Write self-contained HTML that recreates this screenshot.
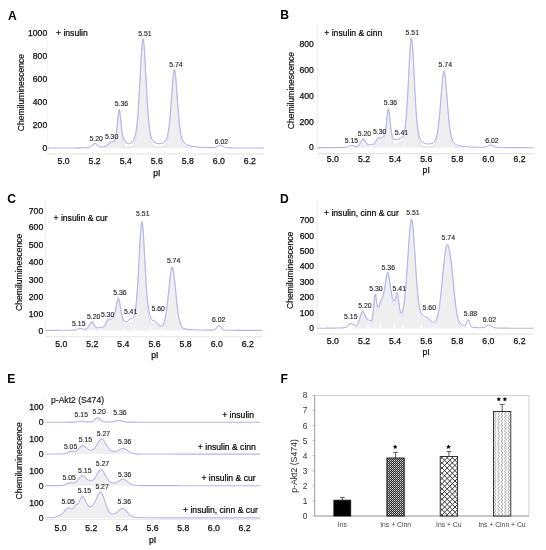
<!DOCTYPE html>
<html><head><meta charset="utf-8"><title>Figure</title>
<style>
html,body{margin:0;padding:0;background:#fff;}
body{width:546px;height:550px;overflow:hidden;font-family:"Liberation Sans",sans-serif;}
svg{display:block;will-change:transform;transform:translateZ(0);}
</style></head><body>
<svg width="546" height="550" viewBox="0 0 546 550" font-family="Liberation Sans, sans-serif">
<rect width="546" height="550" fill="#fff"/>
<text x="7.9" y="19.6" font-size="12.1" text-anchor="start" font-weight="bold" fill="#000" >A</text>
<text x="47.2" y="36.1" font-size="8.6" text-anchor="end" font-weight="normal" fill="#0c0c0c" stroke="#0c0c0c" stroke-width="0.25">1000</text>
<text x="47.2" y="59.1" font-size="8.6" text-anchor="end" font-weight="normal" fill="#0c0c0c" stroke="#0c0c0c" stroke-width="0.25">800</text>
<text x="47.2" y="82.1" font-size="8.6" text-anchor="end" font-weight="normal" fill="#0c0c0c" stroke="#0c0c0c" stroke-width="0.25">600</text>
<text x="47.2" y="105.1" font-size="8.6" text-anchor="end" font-weight="normal" fill="#0c0c0c" stroke="#0c0c0c" stroke-width="0.25">400</text>
<text x="47.2" y="128.1" font-size="8.6" text-anchor="end" font-weight="normal" fill="#0c0c0c" stroke="#0c0c0c" stroke-width="0.25">200</text>
<text x="47.2" y="151.1" font-size="8.6" text-anchor="end" font-weight="normal" fill="#0c0c0c" stroke="#0c0c0c" stroke-width="0.25">0</text>
<text x="63.6" y="164" font-size="8.7" text-anchor="middle" font-weight="normal" fill="#0c0c0c" stroke="#0c0c0c" stroke-width="0.25">5.0</text>
<text x="94.65" y="164" font-size="8.7" text-anchor="middle" font-weight="normal" fill="#0c0c0c" stroke="#0c0c0c" stroke-width="0.25">5.2</text>
<text x="125.7" y="164" font-size="8.7" text-anchor="middle" font-weight="normal" fill="#0c0c0c" stroke="#0c0c0c" stroke-width="0.25">5.4</text>
<text x="156.75" y="164" font-size="8.7" text-anchor="middle" font-weight="normal" fill="#0c0c0c" stroke="#0c0c0c" stroke-width="0.25">5.6</text>
<text x="187.8" y="164" font-size="8.7" text-anchor="middle" font-weight="normal" fill="#0c0c0c" stroke="#0c0c0c" stroke-width="0.25">5.8</text>
<text x="218.85" y="164" font-size="8.7" text-anchor="middle" font-weight="normal" fill="#0c0c0c" stroke="#0c0c0c" stroke-width="0.25">6.0</text>
<text x="249.9" y="164" font-size="8.7" text-anchor="middle" font-weight="normal" fill="#0c0c0c" stroke="#0c0c0c" stroke-width="0.25">6.2</text>
<text x="156.8" y="175.8" font-size="8.6" text-anchor="middle" font-weight="normal" fill="#0c0c0c" stroke="#0c0c0c" stroke-width="0.25">pI</text>
<text x="21.3" y="92.6" font-size="8.6" text-anchor="middle" font-weight="normal" fill="#0c0c0c" transform="rotate(-90 21.3 92.6)" dominant-baseline="central" stroke="#161616" stroke-width="0.2">Chemiluminescence</text>
<text x="56" y="36.3" font-size="8.6" text-anchor="start" font-weight="normal" fill="#000" stroke="#000" stroke-width="0.2">+ insulin</text>
<line x1="47.8" y1="24" x2="47.8" y2="154" stroke="#f0f0f0" stroke-width="1"/>
<line x1="47.8" y1="154" x2="263.9" y2="154" stroke="#e4e4e4" stroke-width="1.1"/>
<path d="M104.00,147.67 L104.50,147.54 L105.00,147.36 L105.50,147.14 L106.00,146.86 L106.50,146.53 L107.00,146.15 L107.50,145.73 L108.00,145.28 L108.50,144.83 L109.00,144.40 L109.50,144.03 L110.00,143.72 L110.50,143.51 L111.00,143.40 L111.50,143.40 L112.00,143.49 L112.50,143.65 L113.00,143.81 L113.50,143.90 L114.00,143.79 L114.50,143.31 L115.00,142.24 L115.50,140.34 L116.00,137.44 L116.50,133.46 L117.00,128.55 L117.50,123.12 L118.00,117.87 L118.50,113.68 L119.00,111.44 L119.50,111.73 L120.00,114.49 L120.50,119.05 L121.00,124.52 L121.50,130.04 L122.00,134.99 L122.50,139.00 L123.00,141.98 L123.50,144.03 L124.00,145.34 L124.50,146.13 L125.00,146.57 L125.50,146.81 L126.00,146.94 L126.50,147.00 L127.00,147.03 L127.50,147.04 L128.00,147.03 L128.50,147.01 L129.00,146.98 L129.50,146.93 L130.00,146.88 L130.50,146.80 L131.00,146.69 L131.50,146.55 L132.00,146.36 L132.50,146.08 L133.00,145.68 L133.50,145.12 L134.00,144.31 L134.50,143.18 L135.00,141.60 L135.50,139.46 L136.00,136.62 L136.50,132.92 L137.00,128.25 L137.50,122.50 L138.00,115.62 L138.50,107.67 L139.00,98.75 L139.50,89.12 L140.00,79.12 L140.50,69.19 L141.00,59.88 L141.50,51.77 L142.00,45.43 L142.50,41.39 L143.00,40.00 L143.50,41.38 L144.00,45.42 L144.50,51.75 L145.00,59.86 L145.50,69.16 L146.00,79.08 L146.50,89.08 L147.00,98.71 L147.50,107.62 L148.00,115.57 L148.50,122.43 L149.00,128.18 L149.50,132.85 L150.00,136.54 L150.50,139.38 L151.00,141.51 L151.50,143.08 L152.00,144.20 L152.50,145.00 L153.00,145.56 L153.50,145.95 L154.00,146.22 L154.50,146.41 L155.00,146.55 L155.50,146.65 L156.00,146.72 L156.50,146.78 L157.00,146.82 L157.50,146.85 L158.00,146.87 L158.50,146.88 L159.00,146.89 L159.50,146.89 L160.00,146.88 L160.50,146.86 L161.00,146.84 L161.50,146.80 L162.00,146.75 L162.50,146.68 L163.00,146.59 L163.50,146.46 L164.00,146.28 L164.50,146.02 L165.00,145.64 L165.50,145.10 L166.00,144.34 L166.50,143.27 L167.00,141.81 L167.50,139.84 L168.00,137.26 L168.50,133.96 L169.00,129.88 L169.50,124.96 L170.00,119.22 L170.50,112.76 L171.00,105.75 L171.50,98.44 L172.00,91.19 L172.50,84.41 L173.00,78.55 L173.50,74.07 L174.00,71.39 L174.50,70.75 L175.00,72.24 L175.50,75.70 L176.00,80.79 L176.50,87.09 L177.00,94.12 L177.50,101.45 L178.00,108.69 L178.50,115.52 L179.00,121.72 L179.50,127.15 L180.00,131.75 L180.50,135.53 L181.00,138.54 L181.50,140.88 L182.00,142.65 L182.50,143.96 L183.00,144.91 L183.50,145.59 L184.00,146.08 L184.50,146.42 L185.00,146.67 L185.50,146.85 L186.00,146.99 L186.50,147.10 L187.00,147.19 L187.50,147.26 L188.00,147.32 L188.50,147.38 L189.00,147.43 L189.50,147.47 L190.00,147.51 L190.50,147.55 L191.00,147.58 L191.50,147.61 L192.00,147.64 L192.00,148.20 L104.00,148.20 Z" fill="#efefef" stroke="none"/>
<path d="M104.00,147.67 L104.50,147.54 L105.00,147.36 L105.50,147.14 L106.00,146.86 L106.50,146.53 L107.00,146.15 L107.50,145.73 L108.00,145.28 L108.50,144.83 L109.00,144.40 L109.50,144.03 L110.00,143.72 L110.50,143.51 L111.00,143.40 L111.50,143.40 L112.00,143.49 L112.50,143.65 L113.00,143.81 L113.50,143.90 L114.00,143.79 L114.50,143.31 L115.00,142.24 L115.50,140.34 L116.00,137.44 L116.50,133.46 L117.00,128.55 L117.50,123.12 L118.00,117.87 L118.50,113.68 L119.00,111.44 L119.50,111.73 L120.00,114.49 L120.50,119.05 L121.00,124.52 L121.50,130.04 L122.00,134.99 L122.50,139.00 L123.00,141.98 L123.50,144.03 L124.00,145.34 L124.50,146.13 L125.00,146.57 L125.50,146.81 L126.00,146.94 L126.50,147.00 L127.00,147.03 L127.50,147.04 L128.00,147.03 L128.50,147.01 L129.00,146.98 L129.50,146.93 L130.00,146.88 L130.50,146.80 L131.00,146.69 L131.50,146.55 L132.00,146.36 L132.50,146.08 L133.00,145.68 L133.50,145.12 L134.00,144.31 L134.50,143.18 L135.00,141.60 L135.50,139.46 L136.00,136.62 L136.50,132.92 L137.00,128.25 L137.50,122.50 L138.00,115.62 L138.50,107.67 L139.00,98.75 L139.50,89.12 L140.00,79.12 L140.50,69.19 L141.00,59.88 L141.50,51.77 L142.00,45.43 L142.50,41.39 L143.00,40.00 L143.50,41.38 L144.00,45.42 L144.50,51.75 L145.00,59.86 L145.50,69.16 L146.00,79.08 L146.50,89.08 L147.00,98.71 L147.50,107.62 L148.00,115.57 L148.50,122.43 L149.00,128.18 L149.50,132.85 L150.00,136.54 L150.50,139.38 L151.00,141.51 L151.50,143.08 L152.00,144.20 L152.50,145.00 L153.00,145.56 L153.50,145.95 L154.00,146.22 L154.50,146.41 L155.00,146.55 L155.50,146.65 L156.00,146.72 L156.50,146.78 L157.00,146.82 L157.50,146.85 L158.00,146.87 L158.50,146.88 L159.00,146.89 L159.50,146.89 L160.00,146.88 L160.50,146.86 L161.00,146.84 L161.50,146.80 L162.00,146.75 L162.50,146.68 L163.00,146.59 L163.50,146.46 L164.00,146.28 L164.50,146.02 L165.00,145.64 L165.50,145.10 L166.00,144.34 L166.50,143.27 L167.00,141.81 L167.50,139.84 L168.00,137.26 L168.50,133.96 L169.00,129.88 L169.50,124.96 L170.00,119.22 L170.50,112.76 L171.00,105.75 L171.50,98.44 L172.00,91.19 L172.50,84.41 L173.00,78.55 L173.50,74.07 L174.00,71.39 L174.50,70.75 L175.00,72.24 L175.50,75.70 L176.00,80.79 L176.50,87.09 L177.00,94.12 L177.50,101.45 L178.00,108.69 L178.50,115.52 L179.00,121.72 L179.50,127.15 L180.00,131.75 L180.50,135.53 L181.00,138.54 L181.50,140.88 L182.00,142.65 L182.50,143.96 L183.00,144.91 L183.50,145.59 L184.00,146.08 L184.50,146.42 L185.00,146.67 L185.50,146.85 L186.00,146.99 L186.50,147.10 L187.00,147.19 L187.50,147.26 L188.00,147.32 L188.50,147.38 L189.00,147.43 L189.50,147.47 L190.00,147.51 L190.50,147.55 L191.00,147.58 L191.50,147.61 L192.00,147.64" fill="none" stroke="#d8d8f2" stroke-width="0.9"/>
<path d="M47.80,148.07 L48.30,148.07 L48.80,148.07 L49.30,148.07 L49.80,148.06 L50.30,148.06 L50.80,148.06 L51.30,148.06 L51.80,148.06 L52.30,148.06 L52.80,148.05 L53.30,148.05 L53.80,148.05 L54.30,148.05 L54.80,148.05 L55.30,148.04 L55.80,148.04 L56.30,148.04 L56.80,148.04 L57.30,148.04 L57.80,148.03 L58.30,148.03 L58.80,148.03 L59.30,148.03 L59.80,148.03 L60.30,148.02 L60.80,148.02 L61.30,148.02 L61.80,148.02 L62.30,148.01 L62.80,148.01 L63.30,148.01 L63.80,148.01 L64.30,148.00 L64.80,148.00 L65.30,148.00 L65.80,148.00 L66.30,147.99 L66.80,147.99 L67.30,147.99 L67.80,147.98 L68.30,147.98 L68.80,147.98 L69.30,147.97 L69.80,147.97 L70.30,147.96 L70.80,147.96 L71.30,147.96 L71.80,147.95 L72.30,147.95 L72.80,147.94 L73.30,147.94 L73.80,147.93 L74.30,147.93 L74.80,147.92 L75.30,147.92 L75.80,147.91 L76.30,147.91 L76.80,147.90 L77.30,147.90 L77.80,147.89 L78.30,147.88 L78.80,147.88 L79.30,147.87 L79.80,147.86 L80.30,147.85 L80.80,147.84 L81.30,147.83 L81.80,147.82 L82.30,147.81 L82.80,147.80 L83.30,147.79 L83.80,147.78 L84.30,147.76 L84.80,147.75 L85.30,147.73 L85.80,147.71 L86.30,147.69 L86.80,147.66 L87.30,147.62 L87.80,147.57 L88.30,147.50 L88.80,147.41 L89.30,147.28 L89.80,147.11 L90.30,146.89 L90.80,146.61 L91.30,146.27 L91.80,145.88 L92.30,145.44 L92.80,144.98 L93.30,144.53 L93.80,144.12 L94.30,143.81 L94.80,143.64 L95.30,143.64 L95.80,143.81 L96.30,144.11 L96.80,144.49 L97.30,144.92 L97.80,145.34 L98.30,145.73 L98.80,146.08 L99.30,146.37 L99.80,146.59 L100.30,146.76 L100.80,146.87 L101.30,146.93 L101.80,146.96 L102.30,146.95 L102.80,146.92 L103.30,146.86 L103.80,146.76 L104.30,146.63 L104.80,146.47 L105.30,146.26 L105.80,146.00 L106.30,145.69 L106.80,145.33 L107.30,144.93 L107.80,144.48 L108.30,144.00 L108.80,143.51 L109.30,143.04 L109.80,142.61 L110.30,142.25 L110.80,141.98 L111.30,141.82 L111.80,141.76 L112.30,141.76 L112.80,141.78 L113.30,141.73 L113.80,141.54 L114.30,141.07 L114.80,140.19 L115.30,138.70 L115.80,136.45 L116.30,133.28 L116.80,129.17 L117.30,124.25 L117.80,118.91 L118.30,113.92 L118.80,110.40 L119.30,109.48 L119.80,111.50 L120.30,115.70 L120.80,120.84 L121.30,125.92 L121.80,130.30 L122.30,133.72 L122.80,136.17 L123.30,137.79 L123.80,138.84 L124.30,139.59 L124.80,140.24 L125.30,140.91 L125.80,141.60 L126.30,142.28 L126.80,142.87 L127.30,143.32 L127.80,143.63 L128.30,143.78 L128.80,143.82 L129.30,143.76 L129.80,143.63 L130.30,143.45 L130.80,143.21 L131.30,142.92 L131.80,142.55 L132.30,142.10 L132.80,141.54 L133.30,140.83 L133.80,139.92 L134.30,138.75 L134.80,137.24 L135.30,135.30 L135.80,132.81 L136.30,129.66 L136.80,125.74 L137.30,120.94 L137.80,115.18 L138.30,108.44 L138.80,100.72 L139.30,92.13 L139.80,82.87 L140.30,73.24 L140.80,63.66 L141.30,54.72 L141.80,47.10 L142.30,41.56 L142.80,38.75 L143.30,39.06 L143.80,42.44 L144.30,48.43 L144.80,56.36 L145.30,65.47 L145.80,75.08 L146.30,84.65 L146.80,93.78 L147.30,102.18 L147.80,109.69 L148.30,116.22 L148.80,121.76 L149.30,126.36 L149.80,130.10 L150.30,133.08 L150.80,135.43 L151.30,137.27 L151.80,138.68 L152.30,139.77 L152.80,140.62 L153.30,141.28 L153.80,141.80 L154.30,142.21 L154.80,142.54 L155.30,142.81 L155.80,143.03 L156.30,143.21 L156.80,143.36 L157.30,143.48 L157.80,143.56 L158.30,143.63 L158.80,143.66 L159.30,143.68 L159.80,143.67 L160.30,143.63 L160.80,143.57 L161.30,143.48 L161.80,143.36 L162.30,143.20 L162.80,143.01 L163.30,142.76 L163.80,142.46 L164.30,142.07 L164.80,141.58 L165.30,140.96 L165.80,140.16 L166.30,139.13 L166.80,137.80 L167.30,136.10 L167.80,133.95 L168.30,131.26 L168.80,127.95 L169.30,123.95 L169.80,119.24 L170.30,113.80 L170.80,107.70 L171.30,101.06 L171.80,94.09 L172.30,87.12 L172.80,80.60 L173.30,75.10 L173.80,71.24 L174.30,69.56 L174.80,70.32 L175.30,73.40 L175.80,78.36 L176.30,84.58 L176.80,91.48 L177.30,98.54 L177.80,105.39 L178.30,111.77 L178.80,117.53 L179.30,122.58 L179.80,126.91 L180.30,130.54 L180.80,133.52 L181.30,135.93 L181.80,137.85 L182.30,139.38 L182.80,140.58 L183.30,141.53 L183.80,142.28 L184.30,142.89 L184.80,143.39 L185.30,143.80 L185.80,144.15 L186.30,144.45 L186.80,144.72 L187.30,144.95 L187.80,145.16 L188.30,145.34 L188.80,145.51 L189.30,145.67 L189.80,145.81 L190.30,145.93 L190.80,146.05 L191.30,146.16 L191.80,146.26 L192.30,146.35 L192.80,146.44 L193.30,146.52 L193.80,146.59 L194.30,146.66 L194.80,146.72 L195.30,146.78 L195.80,146.84 L196.30,146.89 L196.80,146.94 L197.30,146.99 L197.80,147.03 L198.30,147.07 L198.80,147.11 L199.30,147.15 L199.80,147.18 L200.30,147.22 L200.80,147.25 L201.30,147.28 L201.80,147.30 L202.30,147.33 L202.80,147.36 L203.30,147.38 L203.80,147.40 L204.30,147.42 L204.80,147.44 L205.30,147.46 L205.80,147.48 L206.30,147.50 L206.80,147.51 L207.30,147.53 L207.80,147.54 L208.30,147.56 L208.80,147.57 L209.30,147.58 L209.80,147.59 L210.30,147.60 L210.80,147.61 L211.30,147.62 L211.80,147.62 L212.30,147.62 L212.80,147.61 L213.30,147.60 L213.80,147.57 L214.30,147.52 L214.80,147.45 L215.30,147.35 L215.80,147.22 L216.30,147.04 L216.80,146.82 L217.30,146.56 L217.80,146.27 L218.30,145.97 L218.80,145.68 L219.30,145.42 L219.80,145.24 L220.30,145.15 L220.80,145.16 L221.30,145.29 L221.80,145.50 L222.30,145.78 L222.80,146.09 L223.30,146.40 L223.80,146.70 L224.30,146.97 L224.80,147.19 L225.30,147.38 L225.80,147.52 L226.30,147.63 L226.80,147.71 L227.30,147.77 L227.80,147.81 L228.30,147.83 L228.80,147.86 L229.30,147.87 L229.80,147.88 L230.30,147.89 L230.80,147.90 L231.30,147.91 L231.80,147.92 L232.30,147.92 L232.80,147.93 L233.30,147.94 L233.80,147.94 L234.30,147.95 L234.80,147.95 L235.30,147.96 L235.80,147.96 L236.30,147.96 L236.80,147.97 L237.30,147.97 L237.80,147.98 L238.30,147.98 L238.80,147.98 L239.30,147.99 L239.80,147.99 L240.30,147.99 L240.80,148.00 L241.30,148.00 L241.80,148.00 L242.30,148.00 L242.80,148.01 L243.30,148.01 L243.80,148.01 L244.30,148.02 L244.80,148.02 L245.30,148.02 L245.80,148.02 L246.30,148.03 L246.80,148.03 L247.30,148.03 L247.80,148.03 L248.30,148.03 L248.80,148.04 L249.30,148.04 L249.80,148.04 L250.30,148.04 L250.80,148.04 L251.30,148.05 L251.80,148.05 L252.30,148.05 L252.80,148.05 L253.30,148.05 L253.80,148.05 L254.30,148.06 L254.80,148.06 L255.30,148.06 L255.80,148.06 L256.30,148.06 L256.80,148.06 L257.30,148.07 L257.80,148.07 L258.30,148.07 L258.80,148.07 L259.30,148.07 L259.80,148.07 L260.30,148.07 L260.80,148.08 L261.30,148.08 L261.80,148.08 L262.30,148.08 L262.80,148.08 L263.30,148.08 L263.80,148.08" fill="none" stroke="#b6b6ea" stroke-width="1.1" stroke-linejoin="round"/>
<text x="96.2" y="141" font-size="6.9" text-anchor="middle" font-weight="normal" fill="#222" stroke="#222" stroke-width="0.12">5.20</text>
<text x="111.6" y="139.2" font-size="6.9" text-anchor="middle" font-weight="normal" fill="#222" stroke="#222" stroke-width="0.12">5.30</text>
<text x="121.4" y="106.3" font-size="6.9" text-anchor="middle" font-weight="normal" fill="#222" stroke="#222" stroke-width="0.12">5.36</text>
<text x="145" y="35.7" font-size="6.9" text-anchor="middle" font-weight="normal" fill="#222" stroke="#222" stroke-width="0.12">5.51</text>
<text x="176" y="67" font-size="6.9" text-anchor="middle" font-weight="normal" fill="#222" stroke="#222" stroke-width="0.12">5.74</text>
<text x="221.5" y="144" font-size="6.9" text-anchor="middle" font-weight="normal" fill="#222" stroke="#222" stroke-width="0.12">6.02</text>
<text x="280.2" y="19.2" font-size="12.1" text-anchor="start" font-weight="bold" fill="#000" >B</text>
<text x="313.8" y="47.4" font-size="8.6" text-anchor="end" font-weight="normal" fill="#0c0c0c" stroke="#0c0c0c" stroke-width="0.25">800</text>
<text x="313.8" y="73.1" font-size="8.6" text-anchor="end" font-weight="normal" fill="#0c0c0c" stroke="#0c0c0c" stroke-width="0.25">600</text>
<text x="313.8" y="98.89999999999999" font-size="8.6" text-anchor="end" font-weight="normal" fill="#0c0c0c" stroke="#0c0c0c" stroke-width="0.25">400</text>
<text x="313.8" y="124.6" font-size="8.6" text-anchor="end" font-weight="normal" fill="#0c0c0c" stroke="#0c0c0c" stroke-width="0.25">200</text>
<text x="313.8" y="150.4" font-size="8.6" text-anchor="end" font-weight="normal" fill="#0c0c0c" stroke="#0c0c0c" stroke-width="0.25">0</text>
<text x="332.9" y="162" font-size="8.7" text-anchor="middle" font-weight="normal" fill="#0c0c0c" stroke="#0c0c0c" stroke-width="0.25">5.0</text>
<text x="364.0" y="162" font-size="8.7" text-anchor="middle" font-weight="normal" fill="#0c0c0c" stroke="#0c0c0c" stroke-width="0.25">5.2</text>
<text x="395.09999999999997" y="162" font-size="8.7" text-anchor="middle" font-weight="normal" fill="#0c0c0c" stroke="#0c0c0c" stroke-width="0.25">5.4</text>
<text x="426.2" y="162" font-size="8.7" text-anchor="middle" font-weight="normal" fill="#0c0c0c" stroke="#0c0c0c" stroke-width="0.25">5.6</text>
<text x="457.29999999999995" y="162" font-size="8.7" text-anchor="middle" font-weight="normal" fill="#0c0c0c" stroke="#0c0c0c" stroke-width="0.25">5.8</text>
<text x="488.4" y="162" font-size="8.7" text-anchor="middle" font-weight="normal" fill="#0c0c0c" stroke="#0c0c0c" stroke-width="0.25">6.0</text>
<text x="519.5" y="162" font-size="8.7" text-anchor="middle" font-weight="normal" fill="#0c0c0c" stroke="#0c0c0c" stroke-width="0.25">6.2</text>
<text x="426.2" y="173" font-size="8.6" text-anchor="middle" font-weight="normal" fill="#0c0c0c" stroke="#0c0c0c" stroke-width="0.25">pI</text>
<text x="290.9" y="90.6" font-size="8.6" text-anchor="middle" font-weight="normal" fill="#0c0c0c" transform="rotate(-90 290.9 90.6)" dominant-baseline="central" stroke="#161616" stroke-width="0.2">Chemiluminescence</text>
<text x="324.3" y="36.3" font-size="8.6" text-anchor="start" font-weight="normal" fill="#000" stroke="#000" stroke-width="0.2">+ insulin &amp; cinn</text>
<line x1="317.5" y1="24" x2="317.5" y2="153.6" stroke="#f0f0f0" stroke-width="1"/>
<line x1="317.5" y1="153.6" x2="533.7" y2="153.6" stroke="#e4e4e4" stroke-width="1.1"/>
<path d="M354.00,147.69 L354.50,147.68 L355.00,147.66 L355.50,147.61 L356.00,147.54 L356.50,147.43 L357.00,147.26 L357.50,147.01 L358.00,146.65 L358.50,146.17 L359.00,145.55 L359.50,144.79 L360.00,143.91 L360.50,142.94 L361.00,141.96 L361.50,141.03 L362.00,140.24 L362.50,139.67 L363.00,139.38 L363.50,139.41 L364.00,139.75 L364.50,140.36 L365.00,141.18 L365.50,142.12 L366.00,143.10 L366.50,144.04 L367.00,144.89 L367.50,145.62 L368.00,146.20 L368.50,146.64 L369.00,146.96 L369.50,147.16 L370.00,147.28 L370.50,147.32 L371.00,147.29 L371.50,147.19 L372.00,147.02 L372.50,146.76 L373.00,146.40 L373.50,145.93 L374.00,145.33 L374.50,144.62 L375.00,143.80 L375.50,142.92 L376.00,142.00 L376.50,141.11 L377.00,140.32 L377.50,139.68 L378.00,139.25 L378.50,139.05 L379.00,139.06 L379.50,139.26 L380.00,139.57 L380.50,139.91 L381.00,140.18 L381.50,140.35 L382.00,140.39 L382.50,140.32 L383.00,140.11 L383.50,139.70 L384.00,138.93 L384.50,137.55 L385.00,135.35 L385.50,132.17 L386.00,128.06 L386.50,123.32 L387.00,118.49 L387.50,114.31 L388.00,111.59 L388.50,110.93 L389.00,112.52 L389.50,116.02 L390.00,120.74 L390.50,125.93 L391.00,130.94 L391.50,135.31 L392.00,138.80 L392.50,141.37 L393.00,143.09 L393.50,144.14 L394.00,144.67 L394.50,144.86 L395.00,144.81 L395.50,144.61 L396.00,144.33 L396.50,144.00 L397.00,143.66 L397.50,143.32 L398.00,143.00 L398.50,142.73 L399.00,142.52 L399.50,142.36 L400.00,142.25 L400.50,142.19 L401.00,142.14 L401.50,142.05 L402.00,141.88 L402.50,141.52 L403.00,140.89 L403.50,139.84 L404.00,138.23 L404.50,135.90 L405.00,132.67 L405.50,128.39 L406.00,122.92 L406.50,116.21 L407.00,108.27 L407.50,99.23 L408.00,89.35 L408.50,79.00 L409.00,68.71 L409.50,59.06 L410.00,50.74 L410.50,44.38 L411.00,40.57 L411.50,39.66 L412.00,41.77 L412.50,46.67 L413.00,53.90 L413.50,62.86 L414.00,72.88 L414.50,83.31 L415.00,93.59 L415.50,103.27 L416.00,112.01 L416.50,119.63 L417.00,126.02 L417.50,131.23 L418.00,135.34 L418.50,138.49 L419.00,140.85 L419.50,142.56 L420.00,143.78 L420.50,144.64 L421.00,145.23 L421.50,145.64 L422.00,145.92 L422.50,146.12 L423.00,146.26 L423.50,146.37 L424.00,146.44 L424.50,146.51 L425.00,146.56 L425.50,146.59 L426.00,146.63 L426.50,146.65 L427.00,146.67 L427.50,146.68 L428.00,146.69 L428.50,146.69 L429.00,146.68 L429.50,146.67 L430.00,146.65 L430.50,146.62 L431.00,146.58 L431.50,146.52 L432.00,146.44 L432.50,146.32 L433.00,146.15 L433.50,145.91 L434.00,145.56 L434.50,145.07 L435.00,144.39 L435.50,143.44 L436.00,142.16 L436.50,140.45 L437.00,138.23 L437.50,135.41 L438.00,131.92 L438.50,127.71 L439.00,122.78 L439.50,117.17 L440.00,110.98 L440.50,104.39 L441.00,97.62 L441.50,90.99 L442.00,84.82 L442.50,79.49 L443.00,75.36 L443.50,72.73 L444.00,71.83 L444.50,72.74 L445.00,75.38 L445.50,79.52 L446.00,84.86 L446.50,91.04 L447.00,97.68 L447.50,104.46 L448.00,111.06 L448.50,117.26 L449.00,122.88 L449.50,127.83 L450.00,132.05 L450.50,135.55 L451.00,138.38 L451.50,140.61 L452.00,142.33 L452.50,143.63 L453.00,144.59 L453.50,145.30 L454.00,145.80 L454.50,146.16 L455.00,146.42 L455.50,146.61 L456.00,146.75 L456.50,146.85 L457.00,146.93 L457.50,147.00 L458.00,147.05 L458.50,147.10 L459.00,147.14 L459.50,147.18 L460.00,147.21 L460.50,147.24 L461.00,147.27 L461.50,147.30 L462.00,147.32 L462.00,147.80 L354.00,147.80 Z" fill="#efefef" stroke="none"/>
<path d="M354.00,147.69 L354.50,147.68 L355.00,147.66 L355.50,147.61 L356.00,147.54 L356.50,147.43 L357.00,147.26 L357.50,147.01 L358.00,146.65 L358.50,146.17 L359.00,145.55 L359.50,144.79 L360.00,143.91 L360.50,142.94 L361.00,141.96 L361.50,141.03 L362.00,140.24 L362.50,139.67 L363.00,139.38 L363.50,139.41 L364.00,139.75 L364.50,140.36 L365.00,141.18 L365.50,142.12 L366.00,143.10 L366.50,144.04 L367.00,144.89 L367.50,145.62 L368.00,146.20 L368.50,146.64 L369.00,146.96 L369.50,147.16 L370.00,147.28 L370.50,147.32 L371.00,147.29 L371.50,147.19 L372.00,147.02 L372.50,146.76 L373.00,146.40 L373.50,145.93 L374.00,145.33 L374.50,144.62 L375.00,143.80 L375.50,142.92 L376.00,142.00 L376.50,141.11 L377.00,140.32 L377.50,139.68 L378.00,139.25 L378.50,139.05 L379.00,139.06 L379.50,139.26 L380.00,139.57 L380.50,139.91 L381.00,140.18 L381.50,140.35 L382.00,140.39 L382.50,140.32 L383.00,140.11 L383.50,139.70 L384.00,138.93 L384.50,137.55 L385.00,135.35 L385.50,132.17 L386.00,128.06 L386.50,123.32 L387.00,118.49 L387.50,114.31 L388.00,111.59 L388.50,110.93 L389.00,112.52 L389.50,116.02 L390.00,120.74 L390.50,125.93 L391.00,130.94 L391.50,135.31 L392.00,138.80 L392.50,141.37 L393.00,143.09 L393.50,144.14 L394.00,144.67 L394.50,144.86 L395.00,144.81 L395.50,144.61 L396.00,144.33 L396.50,144.00 L397.00,143.66 L397.50,143.32 L398.00,143.00 L398.50,142.73 L399.00,142.52 L399.50,142.36 L400.00,142.25 L400.50,142.19 L401.00,142.14 L401.50,142.05 L402.00,141.88 L402.50,141.52 L403.00,140.89 L403.50,139.84 L404.00,138.23 L404.50,135.90 L405.00,132.67 L405.50,128.39 L406.00,122.92 L406.50,116.21 L407.00,108.27 L407.50,99.23 L408.00,89.35 L408.50,79.00 L409.00,68.71 L409.50,59.06 L410.00,50.74 L410.50,44.38 L411.00,40.57 L411.50,39.66 L412.00,41.77 L412.50,46.67 L413.00,53.90 L413.50,62.86 L414.00,72.88 L414.50,83.31 L415.00,93.59 L415.50,103.27 L416.00,112.01 L416.50,119.63 L417.00,126.02 L417.50,131.23 L418.00,135.34 L418.50,138.49 L419.00,140.85 L419.50,142.56 L420.00,143.78 L420.50,144.64 L421.00,145.23 L421.50,145.64 L422.00,145.92 L422.50,146.12 L423.00,146.26 L423.50,146.37 L424.00,146.44 L424.50,146.51 L425.00,146.56 L425.50,146.59 L426.00,146.63 L426.50,146.65 L427.00,146.67 L427.50,146.68 L428.00,146.69 L428.50,146.69 L429.00,146.68 L429.50,146.67 L430.00,146.65 L430.50,146.62 L431.00,146.58 L431.50,146.52 L432.00,146.44 L432.50,146.32 L433.00,146.15 L433.50,145.91 L434.00,145.56 L434.50,145.07 L435.00,144.39 L435.50,143.44 L436.00,142.16 L436.50,140.45 L437.00,138.23 L437.50,135.41 L438.00,131.92 L438.50,127.71 L439.00,122.78 L439.50,117.17 L440.00,110.98 L440.50,104.39 L441.00,97.62 L441.50,90.99 L442.00,84.82 L442.50,79.49 L443.00,75.36 L443.50,72.73 L444.00,71.83 L444.50,72.74 L445.00,75.38 L445.50,79.52 L446.00,84.86 L446.50,91.04 L447.00,97.68 L447.50,104.46 L448.00,111.06 L448.50,117.26 L449.00,122.88 L449.50,127.83 L450.00,132.05 L450.50,135.55 L451.00,138.38 L451.50,140.61 L452.00,142.33 L452.50,143.63 L453.00,144.59 L453.50,145.30 L454.00,145.80 L454.50,146.16 L455.00,146.42 L455.50,146.61 L456.00,146.75 L456.50,146.85 L457.00,146.93 L457.50,147.00 L458.00,147.05 L458.50,147.10 L459.00,147.14 L459.50,147.18 L460.00,147.21 L460.50,147.24 L461.00,147.27 L461.50,147.30 L462.00,147.32" fill="none" stroke="#d8d8f2" stroke-width="0.9"/>
<path d="M368.50,148.10 Q371.00,146.60 371.00,143.80 Q371.00,146.60 373.50,148.10 Z" fill="#fafafa" stroke="none"/>
<path d="M392.50,148.10 Q394.50,146.30 394.50,142.80 Q394.50,146.30 396.50,148.10 Z" fill="#fafafa" stroke="none"/>
<path d="M402.50,148.10 Q404.50,146.30 404.50,142.80 Q404.50,146.30 406.50,148.10 Z" fill="#fafafa" stroke="none"/>
<path d="M317.50,147.67 L318.00,147.66 L318.50,147.66 L319.00,147.66 L319.50,147.66 L320.00,147.66 L320.50,147.65 L321.00,147.65 L321.50,147.65 L322.00,147.65 L322.50,147.65 L323.00,147.65 L323.50,147.64 L324.00,147.64 L324.50,147.64 L325.00,147.64 L325.50,147.63 L326.00,147.63 L326.50,147.63 L327.00,147.63 L327.50,147.62 L328.00,147.62 L328.50,147.62 L329.00,147.62 L329.50,147.61 L330.00,147.61 L330.50,147.61 L331.00,147.60 L331.50,147.60 L332.00,147.60 L332.50,147.59 L333.00,147.59 L333.50,147.59 L334.00,147.58 L334.50,147.58 L335.00,147.58 L335.50,147.57 L336.00,147.57 L336.50,147.56 L337.00,147.56 L337.50,147.55 L338.00,147.55 L338.50,147.54 L339.00,147.54 L339.50,147.53 L340.00,147.52 L340.50,147.52 L341.00,147.51 L341.50,147.50 L342.00,147.49 L342.50,147.48 L343.00,147.47 L343.50,147.45 L344.00,147.43 L344.50,147.41 L345.00,147.37 L345.50,147.32 L346.00,147.26 L346.50,147.17 L347.00,147.06 L347.50,146.92 L348.00,146.75 L348.50,146.56 L349.00,146.34 L349.50,146.13 L350.00,145.92 L350.50,145.73 L351.00,145.60 L351.50,145.53 L352.00,145.53 L352.50,145.61 L353.00,145.73 L353.50,145.89 L354.00,146.06 L354.50,146.22 L355.00,146.36 L355.50,146.46 L356.00,146.50 L356.50,146.49 L357.00,146.39 L357.50,146.20 L358.00,145.91 L358.50,145.50 L359.00,144.95 L359.50,144.28 L360.00,143.49 L360.50,142.60 L361.00,141.66 L361.50,140.73 L362.00,139.91 L362.50,139.28 L363.00,138.95 L363.50,138.96 L364.00,139.30 L364.50,139.91 L365.00,140.69 L365.50,141.54 L366.00,142.36 L366.50,143.10 L367.00,143.71 L367.50,144.18 L368.00,144.51 L368.50,144.70 L369.00,144.80 L369.50,144.82 L370.00,144.81 L370.50,144.77 L371.00,144.73 L371.50,144.68 L372.00,144.61 L372.50,144.50 L373.00,144.32 L373.50,144.04 L374.00,143.65 L374.50,143.13 L375.00,142.49 L375.50,141.73 L376.00,140.91 L376.50,140.06 L377.00,139.26 L377.50,138.58 L378.00,138.08 L378.50,137.81 L379.00,137.75 L379.50,137.86 L380.00,138.03 L380.50,138.15 L381.00,138.15 L381.50,137.97 L382.00,137.65 L382.50,137.22 L383.00,136.76 L383.50,136.23 L384.00,135.51 L384.50,134.39 L385.00,132.60 L385.50,129.94 L386.00,126.34 L386.50,121.94 L387.00,117.18 L387.50,112.79 L388.00,109.75 L388.50,108.97 L389.00,110.74 L389.50,114.49 L390.00,119.27 L390.50,124.20 L391.00,128.68 L391.50,132.39 L392.00,135.21 L392.50,137.16 L393.00,138.39 L393.50,139.08 L394.00,139.42 L394.50,139.58 L395.00,139.67 L395.50,139.73 L396.00,139.78 L396.50,139.80 L397.00,139.77 L397.50,139.67 L398.00,139.51 L398.50,139.30 L399.00,139.06 L399.50,138.81 L400.00,138.58 L400.50,138.34 L401.00,138.09 L401.50,137.79 L402.00,137.39 L402.50,136.81 L403.00,135.98 L403.50,134.78 L404.00,133.11 L404.50,130.82 L405.00,127.78 L405.50,123.85 L406.00,118.93 L406.50,112.91 L407.00,105.79 L407.50,97.60 L408.00,88.48 L408.50,78.70 L409.00,68.66 L409.50,58.89 L410.00,50.12 L410.50,43.18 L411.00,38.91 L411.50,37.88 L412.00,40.26 L412.50,45.70 L413.00,53.49 L413.50,62.77 L414.00,72.76 L414.50,82.81 L415.00,92.42 L415.50,101.28 L416.00,109.17 L416.50,115.99 L417.00,121.75 L417.50,126.48 L418.00,130.28 L418.50,133.29 L419.00,135.64 L419.50,137.44 L420.00,138.83 L420.50,139.89 L421.00,140.71 L421.50,141.34 L422.00,141.85 L422.50,142.26 L423.00,142.59 L423.50,142.87 L424.00,143.10 L424.50,143.29 L425.00,143.46 L425.50,143.59 L426.00,143.71 L426.50,143.79 L427.00,143.86 L427.50,143.91 L428.00,143.94 L428.50,143.95 L429.00,143.94 L429.50,143.91 L430.00,143.86 L430.50,143.79 L431.00,143.69 L431.50,143.55 L432.00,143.39 L432.50,143.17 L433.00,142.90 L433.50,142.54 L434.00,142.08 L434.50,141.49 L435.00,140.72 L435.50,139.72 L436.00,138.43 L436.50,136.78 L437.00,134.70 L437.50,132.11 L438.00,128.96 L438.50,125.18 L439.00,120.75 L439.50,115.68 L440.00,110.03 L440.50,103.90 L441.00,97.47 L441.50,90.97 L442.00,84.73 L442.50,79.15 L443.00,74.69 L443.50,71.80 L444.00,70.80 L444.50,71.83 L445.00,74.76 L445.50,79.26 L446.00,84.87 L446.50,91.14 L447.00,97.68 L447.50,104.15 L448.00,110.32 L448.50,116.01 L449.00,121.11 L449.50,125.58 L450.00,129.40 L450.50,132.60 L451.00,135.23 L451.50,137.36 L452.00,139.06 L452.50,140.40 L453.00,141.45 L453.50,142.27 L454.00,142.93 L454.50,143.44 L455.00,143.86 L455.50,144.20 L456.00,144.49 L456.50,144.73 L457.00,144.94 L457.50,145.12 L458.00,145.29 L458.50,145.44 L459.00,145.57 L459.50,145.69 L460.00,145.80 L460.50,145.91 L461.00,146.00 L461.50,146.09 L462.00,146.17 L462.50,146.24 L463.00,146.31 L463.50,146.38 L464.00,146.44 L464.50,146.49 L465.00,146.55 L465.50,146.59 L466.00,146.64 L466.50,146.68 L467.00,146.72 L467.50,146.76 L468.00,146.80 L468.50,146.83 L469.00,146.87 L469.50,146.90 L470.00,146.92 L470.50,146.95 L471.00,146.98 L471.50,147.00 L472.00,147.03 L472.50,147.05 L473.00,147.07 L473.50,147.09 L474.00,147.11 L474.50,147.12 L475.00,147.14 L475.50,147.16 L476.00,147.17 L476.50,147.19 L477.00,147.20 L477.50,147.21 L478.00,147.23 L478.50,147.24 L479.00,147.25 L479.50,147.26 L480.00,147.27 L480.50,147.27 L481.00,147.28 L481.50,147.28 L482.00,147.28 L482.50,147.28 L483.00,147.27 L483.50,147.25 L484.00,147.22 L484.50,147.17 L485.00,147.09 L485.50,146.99 L486.00,146.84 L486.50,146.66 L487.00,146.44 L487.50,146.19 L488.00,145.92 L488.50,145.64 L489.00,145.38 L489.50,145.16 L490.00,145.02 L490.50,144.98 L491.00,145.04 L491.50,145.19 L492.00,145.41 L492.50,145.69 L493.00,145.98 L493.50,146.26 L494.00,146.53 L494.50,146.76 L495.00,146.95 L495.50,147.11 L496.00,147.23 L496.50,147.31 L497.00,147.38 L497.50,147.42 L498.00,147.46 L498.50,147.48 L499.00,147.50 L499.50,147.51 L500.00,147.52 L500.50,147.53 L501.00,147.53 L501.50,147.54 L502.00,147.55 L502.50,147.55 L503.00,147.56 L503.50,147.56 L504.00,147.57 L504.50,147.57 L505.00,147.58 L505.50,147.58 L506.00,147.59 L506.50,147.59 L507.00,147.59 L507.50,147.60 L508.00,147.60 L508.50,147.60 L509.00,147.61 L509.50,147.61 L510.00,147.61 L510.50,147.61 L511.00,147.62 L511.50,147.62 L512.00,147.62 L512.50,147.63 L513.00,147.63 L513.50,147.63 L514.00,147.63 L514.50,147.63 L515.00,147.64 L515.50,147.64 L516.00,147.64 L516.50,147.64 L517.00,147.65 L517.50,147.65 L518.00,147.65 L518.50,147.65 L519.00,147.65 L519.50,147.65 L520.00,147.66 L520.50,147.66 L521.00,147.66 L521.50,147.66 L522.00,147.66 L522.50,147.66 L523.00,147.67 L523.50,147.67 L524.00,147.67 L524.50,147.67 L525.00,147.67 L525.50,147.67 L526.00,147.67 L526.50,147.68 L527.00,147.68 L527.50,147.68 L528.00,147.68 L528.50,147.68 L529.00,147.68 L529.50,147.68 L530.00,147.69 L530.50,147.69 L531.00,147.69 L531.50,147.69 L532.00,147.69 L532.50,147.69 L533.00,147.69 L533.50,147.69" fill="none" stroke="#b6b6ea" stroke-width="1.1" stroke-linejoin="round"/>
<text x="351.4" y="142.6" font-size="6.9" text-anchor="middle" font-weight="normal" fill="#222" stroke="#222" stroke-width="0.12">5.15</text>
<text x="364.4" y="135.7" font-size="6.9" text-anchor="middle" font-weight="normal" fill="#222" stroke="#222" stroke-width="0.12">5.20</text>
<text x="379.7" y="134.3" font-size="6.9" text-anchor="middle" font-weight="normal" fill="#222" stroke="#222" stroke-width="0.12">5.30</text>
<text x="390.4" y="105.2" font-size="6.9" text-anchor="middle" font-weight="normal" fill="#222" stroke="#222" stroke-width="0.12">5.36</text>
<text x="401.5" y="134.6" font-size="6.9" text-anchor="middle" font-weight="normal" fill="#222" stroke="#222" stroke-width="0.12">5.41</text>
<text x="412.3" y="34.9" font-size="6.9" text-anchor="middle" font-weight="normal" fill="#222" stroke="#222" stroke-width="0.12">5.51</text>
<text x="445.3" y="67.3" font-size="6.9" text-anchor="middle" font-weight="normal" fill="#222" stroke="#222" stroke-width="0.12">5.74</text>
<text x="492" y="143" font-size="6.9" text-anchor="middle" font-weight="normal" fill="#222" stroke="#222" stroke-width="0.12">6.02</text>
<text x="7.3" y="203.3" font-size="12.1" text-anchor="start" font-weight="bold" fill="#000" >C</text>
<text x="43.2" y="214.0" font-size="8.6" text-anchor="end" font-weight="normal" fill="#0c0c0c" stroke="#0c0c0c" stroke-width="0.25">700</text>
<text x="43.2" y="230.4" font-size="8.6" text-anchor="end" font-weight="normal" fill="#0c0c0c" stroke="#0c0c0c" stroke-width="0.25">600</text>
<text x="43.2" y="247.7" font-size="8.6" text-anchor="end" font-weight="normal" fill="#0c0c0c" stroke="#0c0c0c" stroke-width="0.25">500</text>
<text x="43.2" y="265.1" font-size="8.6" text-anchor="end" font-weight="normal" fill="#0c0c0c" stroke="#0c0c0c" stroke-width="0.25">400</text>
<text x="43.2" y="283.0" font-size="8.6" text-anchor="end" font-weight="normal" fill="#0c0c0c" stroke="#0c0c0c" stroke-width="0.25">300</text>
<text x="43.2" y="300.20000000000005" font-size="8.6" text-anchor="end" font-weight="normal" fill="#0c0c0c" stroke="#0c0c0c" stroke-width="0.25">200</text>
<text x="43.2" y="317.20000000000005" font-size="8.6" text-anchor="end" font-weight="normal" fill="#0c0c0c" stroke="#0c0c0c" stroke-width="0.25">100</text>
<text x="43.2" y="334.0" font-size="8.6" text-anchor="end" font-weight="normal" fill="#0c0c0c" stroke="#0c0c0c" stroke-width="0.25">0</text>
<text x="61.2" y="346.6" font-size="8.7" text-anchor="middle" font-weight="normal" fill="#0c0c0c" stroke="#0c0c0c" stroke-width="0.25">5.0</text>
<text x="92.30000000000001" y="346.6" font-size="8.7" text-anchor="middle" font-weight="normal" fill="#0c0c0c" stroke="#0c0c0c" stroke-width="0.25">5.2</text>
<text x="123.4" y="346.6" font-size="8.7" text-anchor="middle" font-weight="normal" fill="#0c0c0c" stroke="#0c0c0c" stroke-width="0.25">5.4</text>
<text x="154.5" y="346.6" font-size="8.7" text-anchor="middle" font-weight="normal" fill="#0c0c0c" stroke="#0c0c0c" stroke-width="0.25">5.6</text>
<text x="185.60000000000002" y="346.6" font-size="8.7" text-anchor="middle" font-weight="normal" fill="#0c0c0c" stroke="#0c0c0c" stroke-width="0.25">5.8</text>
<text x="216.7" y="346.6" font-size="8.7" text-anchor="middle" font-weight="normal" fill="#0c0c0c" stroke="#0c0c0c" stroke-width="0.25">6.0</text>
<text x="247.8" y="346.6" font-size="8.7" text-anchor="middle" font-weight="normal" fill="#0c0c0c" stroke="#0c0c0c" stroke-width="0.25">6.2</text>
<text x="154.8" y="358.2" font-size="8.6" text-anchor="middle" font-weight="normal" fill="#0c0c0c" stroke="#0c0c0c" stroke-width="0.25">pI</text>
<text x="19.1" y="272.3" font-size="8.6" text-anchor="middle" font-weight="normal" fill="#0c0c0c" transform="rotate(-90 19.1 272.3)" dominant-baseline="central" stroke="#161616" stroke-width="0.2">Chemiluminescence</text>
<text x="53.5" y="220.8" font-size="8.6" text-anchor="start" font-weight="normal" fill="#000" stroke="#000" stroke-width="0.2">+ insulin &amp; cur</text>
<line x1="45.5" y1="200" x2="45.5" y2="336.8" stroke="#f0f0f0" stroke-width="1"/>
<line x1="45.5" y1="336.8" x2="262.3" y2="336.8" stroke="#e4e4e4" stroke-width="1.1"/>
<path d="M84.00,330.32 L84.50,330.26 L85.00,330.15 L85.50,329.98 L86.00,329.73 L86.50,329.38 L87.00,328.90 L87.50,328.29 L88.00,327.54 L88.50,326.66 L89.00,325.71 L89.50,324.74 L90.00,323.82 L90.50,323.04 L91.00,322.48 L91.50,322.20 L92.00,322.23 L92.50,322.56 L93.00,323.17 L93.50,323.97 L94.00,324.90 L94.50,325.87 L95.00,326.81 L95.50,327.65 L96.00,328.37 L96.50,328.94 L97.00,329.39 L97.50,329.70 L98.00,329.92 L98.50,330.06 L99.00,330.13 L99.50,330.15 L100.00,330.12 L100.50,330.06 L101.00,329.94 L101.50,329.76 L102.00,329.51 L102.50,329.17 L103.00,328.72 L103.50,328.16 L104.00,327.48 L104.50,326.68 L105.00,325.78 L105.50,324.81 L106.00,323.81 L106.50,322.85 L107.00,321.98 L107.50,321.25 L108.00,320.72 L108.50,320.41 L109.00,320.33 L109.50,320.43 L110.00,320.64 L110.50,320.86 L111.00,320.99 L111.50,320.95 L112.00,320.69 L112.50,320.19 L113.00,319.49 L113.50,318.57 L114.00,317.42 L114.50,315.95 L115.00,314.10 L115.50,311.83 L116.00,309.22 L116.50,306.45 L117.00,303.82 L117.50,301.68 L118.00,300.34 L118.50,300.06 L119.00,300.92 L119.50,302.83 L120.00,305.54 L120.50,308.77 L121.00,312.20 L121.50,315.55 L122.00,318.60 L122.50,321.20 L123.00,323.28 L123.50,324.82 L124.00,325.86 L124.50,326.46 L125.00,326.68 L125.50,326.62 L126.00,326.33 L126.50,325.89 L127.00,325.35 L127.50,324.76 L128.00,324.17 L128.50,323.62 L129.00,323.15 L129.50,322.79 L130.00,322.55 L130.50,322.43 L131.00,322.41 L131.50,322.45 L132.00,322.51 L132.50,322.48 L133.00,322.28 L133.50,321.77 L134.00,320.81 L134.50,319.24 L135.00,316.90 L135.50,313.63 L136.00,309.29 L136.50,303.79 L137.00,297.07 L137.50,289.20 L138.00,280.32 L138.50,270.70 L139.00,260.71 L139.50,250.85 L140.00,241.67 L140.50,233.78 L141.00,227.79 L141.50,224.20 L142.00,223.34 L142.50,225.30 L143.00,229.87 L143.50,236.63 L144.00,245.03 L144.50,254.43 L145.00,264.24 L145.50,273.91 L146.00,283.00 L146.50,291.21 L147.00,298.37 L147.50,304.40 L148.00,309.36 L148.50,313.33 L149.00,316.47 L149.50,318.91 L150.00,320.76 L150.50,322.12 L151.00,323.08 L151.50,323.70 L152.00,324.04 L152.50,324.17 L153.00,324.17 L153.50,324.10 L154.00,324.02 L154.50,324.00 L155.00,324.06 L155.50,324.22 L156.00,324.50 L156.50,324.87 L157.00,325.32 L157.50,325.81 L158.00,326.32 L158.50,326.80 L159.00,327.24 L159.50,327.60 L160.00,327.88 L160.50,328.05 L161.00,328.10 L161.50,328.02 L162.00,327.78 L162.50,327.37 L163.00,326.74 L163.50,325.85 L164.00,324.66 L164.50,323.11 L165.00,321.15 L165.50,318.72 L166.00,315.80 L166.50,312.36 L167.00,308.42 L167.50,304.02 L168.00,299.24 L168.50,294.20 L169.00,289.06 L169.50,284.03 L170.00,279.32 L170.50,275.18 L171.00,271.85 L171.50,269.53 L172.00,268.40 L172.50,268.54 L173.00,269.93 L173.50,272.47 L174.00,276.00 L174.50,280.28 L175.00,285.09 L175.50,290.17 L176.00,295.32 L176.50,300.33 L177.00,305.06 L177.50,309.39 L178.00,313.25 L178.50,316.60 L179.00,319.44 L179.50,321.80 L180.00,323.70 L180.50,325.22 L181.00,326.40 L181.50,327.30 L182.00,327.98 L182.50,328.48 L183.00,328.86 L183.50,329.13 L184.00,329.33 L184.50,329.48 L185.00,329.59 L185.50,329.68 L186.00,329.74 L186.50,329.80 L187.00,329.84 L187.50,329.88 L188.00,329.92 L188.50,329.95 L189.00,329.98 L189.50,330.00 L190.00,330.03 L190.00,330.50 L84.00,330.50 Z" fill="#efefef" stroke="none"/>
<path d="M84.00,330.32 L84.50,330.26 L85.00,330.15 L85.50,329.98 L86.00,329.73 L86.50,329.38 L87.00,328.90 L87.50,328.29 L88.00,327.54 L88.50,326.66 L89.00,325.71 L89.50,324.74 L90.00,323.82 L90.50,323.04 L91.00,322.48 L91.50,322.20 L92.00,322.23 L92.50,322.56 L93.00,323.17 L93.50,323.97 L94.00,324.90 L94.50,325.87 L95.00,326.81 L95.50,327.65 L96.00,328.37 L96.50,328.94 L97.00,329.39 L97.50,329.70 L98.00,329.92 L98.50,330.06 L99.00,330.13 L99.50,330.15 L100.00,330.12 L100.50,330.06 L101.00,329.94 L101.50,329.76 L102.00,329.51 L102.50,329.17 L103.00,328.72 L103.50,328.16 L104.00,327.48 L104.50,326.68 L105.00,325.78 L105.50,324.81 L106.00,323.81 L106.50,322.85 L107.00,321.98 L107.50,321.25 L108.00,320.72 L108.50,320.41 L109.00,320.33 L109.50,320.43 L110.00,320.64 L110.50,320.86 L111.00,320.99 L111.50,320.95 L112.00,320.69 L112.50,320.19 L113.00,319.49 L113.50,318.57 L114.00,317.42 L114.50,315.95 L115.00,314.10 L115.50,311.83 L116.00,309.22 L116.50,306.45 L117.00,303.82 L117.50,301.68 L118.00,300.34 L118.50,300.06 L119.00,300.92 L119.50,302.83 L120.00,305.54 L120.50,308.77 L121.00,312.20 L121.50,315.55 L122.00,318.60 L122.50,321.20 L123.00,323.28 L123.50,324.82 L124.00,325.86 L124.50,326.46 L125.00,326.68 L125.50,326.62 L126.00,326.33 L126.50,325.89 L127.00,325.35 L127.50,324.76 L128.00,324.17 L128.50,323.62 L129.00,323.15 L129.50,322.79 L130.00,322.55 L130.50,322.43 L131.00,322.41 L131.50,322.45 L132.00,322.51 L132.50,322.48 L133.00,322.28 L133.50,321.77 L134.00,320.81 L134.50,319.24 L135.00,316.90 L135.50,313.63 L136.00,309.29 L136.50,303.79 L137.00,297.07 L137.50,289.20 L138.00,280.32 L138.50,270.70 L139.00,260.71 L139.50,250.85 L140.00,241.67 L140.50,233.78 L141.00,227.79 L141.50,224.20 L142.00,223.34 L142.50,225.30 L143.00,229.87 L143.50,236.63 L144.00,245.03 L144.50,254.43 L145.00,264.24 L145.50,273.91 L146.00,283.00 L146.50,291.21 L147.00,298.37 L147.50,304.40 L148.00,309.36 L148.50,313.33 L149.00,316.47 L149.50,318.91 L150.00,320.76 L150.50,322.12 L151.00,323.08 L151.50,323.70 L152.00,324.04 L152.50,324.17 L153.00,324.17 L153.50,324.10 L154.00,324.02 L154.50,324.00 L155.00,324.06 L155.50,324.22 L156.00,324.50 L156.50,324.87 L157.00,325.32 L157.50,325.81 L158.00,326.32 L158.50,326.80 L159.00,327.24 L159.50,327.60 L160.00,327.88 L160.50,328.05 L161.00,328.10 L161.50,328.02 L162.00,327.78 L162.50,327.37 L163.00,326.74 L163.50,325.85 L164.00,324.66 L164.50,323.11 L165.00,321.15 L165.50,318.72 L166.00,315.80 L166.50,312.36 L167.00,308.42 L167.50,304.02 L168.00,299.24 L168.50,294.20 L169.00,289.06 L169.50,284.03 L170.00,279.32 L170.50,275.18 L171.00,271.85 L171.50,269.53 L172.00,268.40 L172.50,268.54 L173.00,269.93 L173.50,272.47 L174.00,276.00 L174.50,280.28 L175.00,285.09 L175.50,290.17 L176.00,295.32 L176.50,300.33 L177.00,305.06 L177.50,309.39 L178.00,313.25 L178.50,316.60 L179.00,319.44 L179.50,321.80 L180.00,323.70 L180.50,325.22 L181.00,326.40 L181.50,327.30 L182.00,327.98 L182.50,328.48 L183.00,328.86 L183.50,329.13 L184.00,329.33 L184.50,329.48 L185.00,329.59 L185.50,329.68 L186.00,329.74 L186.50,329.80 L187.00,329.84 L187.50,329.88 L188.00,329.92 L188.50,329.95 L189.00,329.98 L189.50,330.00 L190.00,330.03" fill="none" stroke="#d8d8f2" stroke-width="0.9"/>
<path d="M97.50,330.80 Q100.00,329.30 100.00,326.50 Q100.00,329.30 102.50,330.80 Z" fill="#fafafa" stroke="none"/>
<path d="M122.50,330.80 Q124.50,328.70 124.50,324.50 Q124.50,328.70 126.50,330.80 Z" fill="#fafafa" stroke="none"/>
<path d="M132.50,330.80 Q134.50,328.40 134.50,323.50 Q134.50,328.40 136.50,330.80 Z" fill="#fafafa" stroke="none"/>
<path d="M148.50,330.80 Q150.50,328.70 150.50,324.50 Q150.50,328.70 152.50,330.80 Z" fill="#fafafa" stroke="none"/>
<path d="M159.00,330.80 Q161.50,329.00 161.50,325.50 Q161.50,329.00 164.00,330.80 Z" fill="#fafafa" stroke="none"/>
<path d="M45.50,330.38 L46.00,330.38 L46.50,330.38 L47.00,330.38 L47.50,330.37 L48.00,330.37 L48.50,330.37 L49.00,330.37 L49.50,330.37 L50.00,330.37 L50.50,330.36 L51.00,330.36 L51.50,330.36 L52.00,330.36 L52.50,330.36 L53.00,330.35 L53.50,330.35 L54.00,330.35 L54.50,330.35 L55.00,330.35 L55.50,330.34 L56.00,330.34 L56.50,330.34 L57.00,330.34 L57.50,330.33 L58.00,330.33 L58.50,330.33 L59.00,330.33 L59.50,330.32 L60.00,330.32 L60.50,330.32 L61.00,330.31 L61.50,330.31 L62.00,330.31 L62.50,330.30 L63.00,330.30 L63.50,330.30 L64.00,330.29 L64.50,330.29 L65.00,330.28 L65.50,330.28 L66.00,330.27 L66.50,330.27 L67.00,330.26 L67.50,330.26 L68.00,330.25 L68.50,330.25 L69.00,330.24 L69.50,330.23 L70.00,330.23 L70.50,330.22 L71.00,330.21 L71.50,330.20 L72.00,330.19 L72.50,330.17 L73.00,330.15 L73.50,330.12 L74.00,330.08 L74.50,330.03 L75.00,329.96 L75.50,329.87 L76.00,329.76 L76.50,329.62 L77.00,329.46 L77.50,329.28 L78.00,329.10 L78.50,328.92 L79.00,328.76 L79.50,328.64 L80.00,328.57 L80.50,328.55 L81.00,328.60 L81.50,328.69 L82.00,328.81 L82.50,328.95 L83.00,329.08 L83.50,329.19 L84.00,329.27 L84.50,329.30 L85.00,329.27 L85.50,329.16 L86.00,328.97 L86.50,328.68 L87.00,328.27 L87.50,327.73 L88.00,327.07 L88.50,326.28 L89.00,325.40 L89.50,324.47 L90.00,323.56 L90.50,322.75 L91.00,322.13 L91.50,321.81 L92.00,321.82 L92.50,322.17 L93.00,322.79 L93.50,323.58 L94.00,324.44 L94.50,325.28 L95.00,326.04 L95.50,326.68 L96.00,327.17 L96.50,327.51 L97.00,327.72 L97.50,327.82 L98.00,327.83 L98.50,327.79 L99.00,327.73 L99.50,327.67 L100.00,327.62 L100.50,327.59 L101.00,327.55 L101.50,327.51 L102.00,327.42 L102.50,327.26 L103.00,327.01 L103.50,326.63 L104.00,326.12 L104.50,325.47 L105.00,324.69 L105.50,323.82 L106.00,322.87 L106.50,321.92 L107.00,321.02 L107.50,320.23 L108.00,319.62 L108.50,319.23 L109.00,319.06 L109.50,319.07 L110.00,319.17 L110.50,319.24 L111.00,319.16 L111.50,318.86 L112.00,318.32 L112.50,317.58 L113.00,316.71 L113.50,315.75 L114.00,314.70 L114.50,313.46 L115.00,311.91 L115.50,309.96 L116.00,307.58 L116.50,304.92 L117.00,302.24 L117.50,299.94 L118.00,298.45 L118.50,298.11 L119.00,299.05 L119.50,301.11 L120.00,303.93 L120.50,307.12 L121.00,310.32 L121.50,313.27 L122.00,315.77 L122.50,317.73 L123.00,319.16 L123.50,320.14 L124.00,320.77 L124.50,321.20 L125.00,321.50 L125.50,321.72 L126.00,321.83 L126.50,321.82 L127.00,321.66 L127.50,321.35 L128.00,320.92 L128.50,320.42 L129.00,319.91 L129.50,319.45 L130.00,319.06 L130.50,318.77 L131.00,318.57 L131.50,318.42 L132.00,318.26 L132.50,318.03 L133.00,317.62 L133.50,316.93 L134.00,315.86 L134.50,314.26 L135.00,312.01 L135.50,308.98 L136.00,305.04 L136.50,300.10 L137.00,294.09 L137.50,287.03 L138.00,278.96 L138.50,270.06 L139.00,260.58 L139.50,250.90 L140.00,241.57 L140.50,233.24 L141.00,226.69 L141.50,222.67 L142.00,221.70 L142.50,223.91 L143.00,229.00 L143.50,236.30 L144.00,245.03 L144.50,254.43 L145.00,263.88 L145.50,272.90 L146.00,281.17 L146.50,288.50 L147.00,294.81 L147.50,300.12 L148.00,304.52 L148.50,308.13 L149.00,311.09 L149.50,313.51 L150.00,315.49 L150.50,317.07 L151.00,318.31 L151.50,319.23 L152.00,319.89 L152.50,320.31 L153.00,320.58 L153.50,320.74 L154.00,320.87 L154.50,321.03 L155.00,321.25 L155.50,321.57 L156.00,321.99 L156.50,322.48 L157.00,323.03 L157.50,323.61 L158.00,324.18 L158.50,324.71 L159.00,325.19 L159.50,325.58 L160.00,325.88 L160.50,326.06 L161.00,326.12 L161.50,326.03 L162.00,325.79 L162.50,325.37 L163.00,324.72 L163.50,323.82 L164.00,322.62 L164.50,321.07 L165.00,319.11 L165.50,316.71 L166.00,313.83 L166.50,310.46 L167.00,306.60 L167.50,302.30 L168.00,297.63 L168.50,292.69 L169.00,287.65 L169.50,282.69 L170.00,278.01 L170.50,273.88 L171.00,270.53 L171.50,268.19 L172.00,267.06 L172.50,267.21 L173.00,268.65 L173.50,271.25 L174.00,274.82 L174.50,279.13 L175.00,283.93 L175.50,288.98 L176.00,294.07 L176.50,299.01 L177.00,303.67 L177.50,307.95 L178.00,311.77 L178.50,315.10 L179.00,317.95 L179.50,320.33 L180.00,322.28 L180.50,323.86 L181.00,325.10 L181.50,326.07 L182.00,326.82 L182.50,327.39 L183.00,327.83 L183.50,328.17 L184.00,328.42 L184.50,328.62 L185.00,328.78 L185.50,328.91 L186.00,329.02 L186.50,329.11 L187.00,329.19 L187.50,329.26 L188.00,329.32 L188.50,329.37 L189.00,329.42 L189.50,329.47 L190.00,329.52 L190.50,329.56 L191.00,329.59 L191.50,329.63 L192.00,329.66 L192.50,329.69 L193.00,329.72 L193.50,329.75 L194.00,329.77 L194.50,329.80 L195.00,329.82 L195.50,329.84 L196.00,329.86 L196.50,329.88 L197.00,329.90 L197.50,329.92 L198.00,329.93 L198.50,329.95 L199.00,329.96 L199.50,329.98 L200.00,329.99 L200.50,330.00 L201.00,330.01 L201.50,330.02 L202.00,330.03 L202.50,330.04 L203.00,330.05 L203.50,330.06 L204.00,330.07 L204.50,330.08 L205.00,330.09 L205.50,330.09 L206.00,330.10 L206.50,330.10 L207.00,330.11 L207.50,330.11 L208.00,330.12 L208.50,330.12 L209.00,330.12 L209.50,330.12 L210.00,330.12 L210.50,330.12 L211.00,330.11 L211.50,330.10 L212.00,330.09 L212.50,330.06 L213.00,330.01 L213.50,329.93 L214.00,329.80 L214.50,329.61 L215.00,329.32 L215.50,328.94 L216.00,328.44 L216.50,327.86 L217.00,327.21 L217.50,326.57 L218.00,326.01 L218.50,325.62 L219.00,325.48 L219.50,325.62 L220.00,326.02 L220.50,326.59 L221.00,327.24 L221.50,327.89 L222.00,328.49 L222.50,328.99 L223.00,329.38 L223.50,329.67 L224.00,329.88 L224.50,330.01 L225.00,330.10 L225.50,330.16 L226.00,330.20 L226.50,330.22 L227.00,330.24 L227.50,330.25 L228.00,330.26 L228.50,330.27 L229.00,330.28 L229.50,330.29 L230.00,330.29 L230.50,330.30 L231.00,330.30 L231.50,330.31 L232.00,330.31 L232.50,330.32 L233.00,330.32 L233.50,330.33 L234.00,330.33 L234.50,330.33 L235.00,330.34 L235.50,330.34 L236.00,330.34 L236.50,330.35 L237.00,330.35 L237.50,330.35 L238.00,330.35 L238.50,330.36 L239.00,330.36 L239.50,330.36 L240.00,330.36 L240.50,330.36 L241.00,330.37 L241.50,330.37 L242.00,330.37 L242.50,330.37 L243.00,330.37 L243.50,330.38 L244.00,330.38 L244.50,330.38 L245.00,330.38 L245.50,330.38 L246.00,330.38 L246.50,330.38 L247.00,330.39 L247.50,330.39 L248.00,330.39 L248.50,330.39 L249.00,330.39 L249.50,330.39 L250.00,330.39 L250.50,330.40 L251.00,330.40 L251.50,330.40 L252.00,330.40 L252.50,330.40 L253.00,330.40 L253.50,330.40 L254.00,330.40 L254.50,330.40 L255.00,330.41 L255.50,330.41 L256.00,330.41 L256.50,330.41 L257.00,330.41 L257.50,330.41 L258.00,330.41 L258.50,330.41 L259.00,330.41 L259.50,330.41 L260.00,330.41 L260.50,330.42 L261.00,330.42 L261.50,330.42 L262.00,330.42" fill="none" stroke="#b6b6ea" stroke-width="1.1" stroke-linejoin="round"/>
<text x="78.8" y="325.8" font-size="6.9" text-anchor="middle" font-weight="normal" fill="#222" stroke="#222" stroke-width="0.12">5.15</text>
<text x="93.7" y="319.3" font-size="6.9" text-anchor="middle" font-weight="normal" fill="#222" stroke="#222" stroke-width="0.12">5.20</text>
<text x="107.6" y="316.6" font-size="6.9" text-anchor="middle" font-weight="normal" fill="#222" stroke="#222" stroke-width="0.12">5.30</text>
<text x="120" y="294.6" font-size="6.9" text-anchor="middle" font-weight="normal" fill="#222" stroke="#222" stroke-width="0.12">5.36</text>
<text x="130.6" y="314" font-size="6.9" text-anchor="middle" font-weight="normal" fill="#222" stroke="#222" stroke-width="0.12">5.41</text>
<text x="142.8" y="215.8" font-size="6.9" text-anchor="middle" font-weight="normal" fill="#222" stroke="#222" stroke-width="0.12">5.51</text>
<text x="158.2" y="310.5" font-size="6.9" text-anchor="middle" font-weight="normal" fill="#222" stroke="#222" stroke-width="0.12">5.60</text>
<text x="173.6" y="262.5" font-size="6.9" text-anchor="middle" font-weight="normal" fill="#222" stroke="#222" stroke-width="0.12">5.74</text>
<text x="218.7" y="322" font-size="6.9" text-anchor="middle" font-weight="normal" fill="#222" stroke="#222" stroke-width="0.12">6.02</text>
<text x="280.1" y="203.2" font-size="12.1" text-anchor="start" font-weight="bold" fill="#000" >D</text>
<text x="314" y="223.1" font-size="8.6" text-anchor="end" font-weight="normal" fill="#0c0c0c" stroke="#0c0c0c" stroke-width="0.25">700</text>
<text x="314" y="238.53" font-size="8.6" text-anchor="end" font-weight="normal" fill="#0c0c0c" stroke="#0c0c0c" stroke-width="0.25">600</text>
<text x="314" y="253.96" font-size="8.6" text-anchor="end" font-weight="normal" fill="#0c0c0c" stroke="#0c0c0c" stroke-width="0.25">500</text>
<text x="314" y="269.39000000000004" font-size="8.6" text-anchor="end" font-weight="normal" fill="#0c0c0c" stroke="#0c0c0c" stroke-width="0.25">400</text>
<text x="314" y="284.82000000000005" font-size="8.6" text-anchor="end" font-weight="normal" fill="#0c0c0c" stroke="#0c0c0c" stroke-width="0.25">300</text>
<text x="314" y="300.25" font-size="8.6" text-anchor="end" font-weight="normal" fill="#0c0c0c" stroke="#0c0c0c" stroke-width="0.25">200</text>
<text x="314" y="315.68" font-size="8.6" text-anchor="end" font-weight="normal" fill="#0c0c0c" stroke="#0c0c0c" stroke-width="0.25">100</text>
<text x="314" y="331.11" font-size="8.6" text-anchor="end" font-weight="normal" fill="#0c0c0c" stroke="#0c0c0c" stroke-width="0.25">0</text>
<text x="332.9" y="344" font-size="8.7" text-anchor="middle" font-weight="normal" fill="#0c0c0c" stroke="#0c0c0c" stroke-width="0.25">5.0</text>
<text x="364.0" y="344" font-size="8.7" text-anchor="middle" font-weight="normal" fill="#0c0c0c" stroke="#0c0c0c" stroke-width="0.25">5.2</text>
<text x="395.09999999999997" y="344" font-size="8.7" text-anchor="middle" font-weight="normal" fill="#0c0c0c" stroke="#0c0c0c" stroke-width="0.25">5.4</text>
<text x="426.2" y="344" font-size="8.7" text-anchor="middle" font-weight="normal" fill="#0c0c0c" stroke="#0c0c0c" stroke-width="0.25">5.6</text>
<text x="457.29999999999995" y="344" font-size="8.7" text-anchor="middle" font-weight="normal" fill="#0c0c0c" stroke="#0c0c0c" stroke-width="0.25">5.8</text>
<text x="488.4" y="344" font-size="8.7" text-anchor="middle" font-weight="normal" fill="#0c0c0c" stroke="#0c0c0c" stroke-width="0.25">6.0</text>
<text x="519.5" y="344" font-size="8.7" text-anchor="middle" font-weight="normal" fill="#0c0c0c" stroke="#0c0c0c" stroke-width="0.25">6.2</text>
<text x="426" y="355.4" font-size="8.6" text-anchor="middle" font-weight="normal" fill="#0c0c0c" stroke="#0c0c0c" stroke-width="0.25">pI</text>
<text x="290.4" y="270.3" font-size="8.6" text-anchor="middle" font-weight="normal" fill="#0c0c0c" transform="rotate(-90 290.4 270.3)" dominant-baseline="central" stroke="#161616" stroke-width="0.2">Chemiluminescence</text>
<text x="324" y="215.8" font-size="8.6" text-anchor="start" font-weight="normal" fill="#000" stroke="#000" stroke-width="0.2">+ insulin, cinn &amp; cur</text>
<line x1="317.5" y1="200" x2="317.5" y2="334.1" stroke="#f0f0f0" stroke-width="1"/>
<line x1="317.5" y1="334.1" x2="533.7" y2="334.1" stroke="#e4e4e4" stroke-width="1.1"/>
<path d="M353.00,328.22 L353.50,328.19 L354.00,328.13 L354.50,328.03 L355.00,327.88 L355.50,327.66 L356.00,327.32 L356.50,326.84 L357.00,326.19 L357.50,325.32 L358.00,324.23 L358.50,322.91 L359.00,321.38 L359.50,319.69 L360.00,317.93 L360.50,316.21 L361.00,314.64 L361.50,313.36 L362.00,312.47 L362.50,312.03 L363.00,312.09 L363.50,312.61 L364.00,313.51 L364.50,314.69 L365.00,316.01 L365.50,317.37 L366.00,318.63 L366.50,319.75 L367.00,320.67 L367.50,321.42 L368.00,322.01 L368.50,322.50 L369.00,322.92 L369.50,323.33 L370.00,323.70 L370.50,323.98 L371.00,324.01 L371.50,323.52 L372.00,322.09 L372.50,319.31 L373.00,314.94 L373.50,309.29 L374.00,303.29 L374.50,298.37 L375.00,295.80 L375.50,296.13 L376.00,298.85 L376.50,302.69 L377.00,306.27 L377.50,308.67 L378.00,309.63 L378.50,309.41 L379.00,308.44 L379.50,307.14 L380.00,305.77 L380.50,304.46 L381.00,303.24 L381.50,302.05 L382.00,300.80 L382.50,299.37 L383.00,297.66 L383.50,295.59 L384.00,293.11 L384.50,290.26 L385.00,287.11 L385.50,283.85 L386.00,280.70 L386.50,277.93 L387.00,275.85 L387.50,274.71 L388.00,274.71 L388.50,275.91 L389.00,278.21 L389.50,281.38 L390.00,285.08 L390.50,288.97 L391.00,292.71 L391.50,296.07 L392.00,298.95 L392.50,301.33 L393.00,303.21 L393.50,304.53 L394.00,305.14 L394.50,304.85 L395.00,303.59 L395.50,301.53 L396.00,299.15 L396.50,297.14 L397.00,296.17 L397.50,296.73 L398.00,298.85 L398.50,302.21 L399.00,306.20 L399.50,310.11 L400.00,313.39 L400.50,315.70 L401.00,316.93 L401.50,317.13 L402.00,316.44 L402.50,315.00 L403.00,312.88 L403.50,310.14 L404.00,306.75 L404.50,302.68 L405.00,297.91 L405.50,292.40 L406.00,286.18 L406.50,279.31 L407.00,271.91 L407.50,264.14 L408.00,256.23 L408.50,248.44 L409.00,241.06 L409.50,234.43 L410.00,228.85 L410.50,224.61 L411.00,221.97 L411.50,221.09 L412.00,222.01 L412.50,224.69 L413.00,228.97 L413.50,234.61 L414.00,241.33 L414.50,248.80 L415.00,256.71 L415.50,264.74 L416.00,272.64 L416.50,280.15 L417.00,287.10 L417.50,293.34 L418.00,298.80 L418.50,303.44 L419.00,307.29 L419.50,310.38 L420.00,312.82 L420.50,314.68 L421.00,316.08 L421.50,317.12 L422.00,317.87 L422.50,318.42 L423.00,318.81 L423.50,319.08 L424.00,319.27 L424.50,319.40 L425.00,319.49 L425.50,319.56 L426.00,319.63 L426.50,319.73 L427.00,319.87 L427.50,320.07 L428.00,320.34 L428.50,320.68 L429.00,321.08 L429.50,321.53 L430.00,322.02 L430.50,322.52 L431.00,323.01 L431.50,323.47 L432.00,323.87 L432.50,324.20 L433.00,324.43 L433.50,324.55 L434.00,324.52 L434.50,324.33 L435.00,323.95 L435.50,323.35 L436.00,322.51 L436.50,321.38 L437.00,319.94 L437.50,318.15 L438.00,315.97 L438.50,313.37 L439.00,310.35 L439.50,306.88 L440.00,302.99 L440.50,298.68 L441.00,294.00 L441.50,289.03 L442.00,283.84 L442.50,278.54 L443.00,273.25 L443.50,268.10 L444.00,263.22 L444.50,258.74 L445.00,254.80 L445.50,251.50 L446.00,248.92 L446.50,247.12 L447.00,246.10 L447.50,245.86 L448.00,246.35 L448.50,247.51 L449.00,249.29 L449.50,251.64 L450.00,254.52 L450.50,257.91 L451.00,261.75 L451.50,266.03 L452.00,270.69 L452.50,275.65 L453.00,280.83 L453.50,286.12 L454.00,291.39 L454.50,296.52 L455.00,301.38 L455.50,305.88 L456.00,309.95 L456.50,313.52 L457.00,316.58 L457.50,319.13 L458.00,321.22 L458.50,322.88 L459.00,324.17 L459.50,325.16 L460.00,325.89 L460.50,326.43 L461.00,326.82 L461.50,327.10 L462.00,327.30 L462.00,328.40 L353.00,328.40 Z" fill="#efefef" stroke="none"/>
<path d="M353.00,328.22 L353.50,328.19 L354.00,328.13 L354.50,328.03 L355.00,327.88 L355.50,327.66 L356.00,327.32 L356.50,326.84 L357.00,326.19 L357.50,325.32 L358.00,324.23 L358.50,322.91 L359.00,321.38 L359.50,319.69 L360.00,317.93 L360.50,316.21 L361.00,314.64 L361.50,313.36 L362.00,312.47 L362.50,312.03 L363.00,312.09 L363.50,312.61 L364.00,313.51 L364.50,314.69 L365.00,316.01 L365.50,317.37 L366.00,318.63 L366.50,319.75 L367.00,320.67 L367.50,321.42 L368.00,322.01 L368.50,322.50 L369.00,322.92 L369.50,323.33 L370.00,323.70 L370.50,323.98 L371.00,324.01 L371.50,323.52 L372.00,322.09 L372.50,319.31 L373.00,314.94 L373.50,309.29 L374.00,303.29 L374.50,298.37 L375.00,295.80 L375.50,296.13 L376.00,298.85 L376.50,302.69 L377.00,306.27 L377.50,308.67 L378.00,309.63 L378.50,309.41 L379.00,308.44 L379.50,307.14 L380.00,305.77 L380.50,304.46 L381.00,303.24 L381.50,302.05 L382.00,300.80 L382.50,299.37 L383.00,297.66 L383.50,295.59 L384.00,293.11 L384.50,290.26 L385.00,287.11 L385.50,283.85 L386.00,280.70 L386.50,277.93 L387.00,275.85 L387.50,274.71 L388.00,274.71 L388.50,275.91 L389.00,278.21 L389.50,281.38 L390.00,285.08 L390.50,288.97 L391.00,292.71 L391.50,296.07 L392.00,298.95 L392.50,301.33 L393.00,303.21 L393.50,304.53 L394.00,305.14 L394.50,304.85 L395.00,303.59 L395.50,301.53 L396.00,299.15 L396.50,297.14 L397.00,296.17 L397.50,296.73 L398.00,298.85 L398.50,302.21 L399.00,306.20 L399.50,310.11 L400.00,313.39 L400.50,315.70 L401.00,316.93 L401.50,317.13 L402.00,316.44 L402.50,315.00 L403.00,312.88 L403.50,310.14 L404.00,306.75 L404.50,302.68 L405.00,297.91 L405.50,292.40 L406.00,286.18 L406.50,279.31 L407.00,271.91 L407.50,264.14 L408.00,256.23 L408.50,248.44 L409.00,241.06 L409.50,234.43 L410.00,228.85 L410.50,224.61 L411.00,221.97 L411.50,221.09 L412.00,222.01 L412.50,224.69 L413.00,228.97 L413.50,234.61 L414.00,241.33 L414.50,248.80 L415.00,256.71 L415.50,264.74 L416.00,272.64 L416.50,280.15 L417.00,287.10 L417.50,293.34 L418.00,298.80 L418.50,303.44 L419.00,307.29 L419.50,310.38 L420.00,312.82 L420.50,314.68 L421.00,316.08 L421.50,317.12 L422.00,317.87 L422.50,318.42 L423.00,318.81 L423.50,319.08 L424.00,319.27 L424.50,319.40 L425.00,319.49 L425.50,319.56 L426.00,319.63 L426.50,319.73 L427.00,319.87 L427.50,320.07 L428.00,320.34 L428.50,320.68 L429.00,321.08 L429.50,321.53 L430.00,322.02 L430.50,322.52 L431.00,323.01 L431.50,323.47 L432.00,323.87 L432.50,324.20 L433.00,324.43 L433.50,324.55 L434.00,324.52 L434.50,324.33 L435.00,323.95 L435.50,323.35 L436.00,322.51 L436.50,321.38 L437.00,319.94 L437.50,318.15 L438.00,315.97 L438.50,313.37 L439.00,310.35 L439.50,306.88 L440.00,302.99 L440.50,298.68 L441.00,294.00 L441.50,289.03 L442.00,283.84 L442.50,278.54 L443.00,273.25 L443.50,268.10 L444.00,263.22 L444.50,258.74 L445.00,254.80 L445.50,251.50 L446.00,248.92 L446.50,247.12 L447.00,246.10 L447.50,245.86 L448.00,246.35 L448.50,247.51 L449.00,249.29 L449.50,251.64 L450.00,254.52 L450.50,257.91 L451.00,261.75 L451.50,266.03 L452.00,270.69 L452.50,275.65 L453.00,280.83 L453.50,286.12 L454.00,291.39 L454.50,296.52 L455.00,301.38 L455.50,305.88 L456.00,309.95 L456.50,313.52 L457.00,316.58 L457.50,319.13 L458.00,321.22 L458.50,322.88 L459.00,324.17 L459.50,325.16 L460.00,325.89 L460.50,326.43 L461.00,326.82 L461.50,327.10 L462.00,327.30" fill="none" stroke="#d8d8f2" stroke-width="0.9"/>
<path d="M365.60,328.70 Q368.10,326.00 368.10,320.40 Q368.10,326.00 370.60,328.70 Z" fill="#fafafa" stroke="none"/>
<path d="M378.40,328.70 Q380.40,325.70 380.40,319.40 Q380.40,325.70 382.40,328.70 Z" fill="#fafafa" stroke="none"/>
<path d="M392.40,328.70 Q394.40,325.70 394.40,319.40 Q394.40,325.70 396.40,328.70 Z" fill="#fafafa" stroke="none"/>
<path d="M400.20,328.70 Q402.70,326.00 402.70,320.40 Q402.70,326.00 405.20,328.70 Z" fill="#fafafa" stroke="none"/>
<path d="M419.10,328.70 Q421.60,326.30 421.60,321.40 Q421.60,326.30 424.10,328.70 Z" fill="#fafafa" stroke="none"/>
<path d="M431.00,328.70 Q433.50,326.90 433.50,323.40 Q433.50,326.90 436.00,328.70 Z" fill="#fafafa" stroke="none"/>
<path d="M317.50,328.22 L318.00,328.22 L318.50,328.22 L319.00,328.22 L319.50,328.21 L320.00,328.21 L320.50,328.21 L321.00,328.21 L321.50,328.20 L322.00,328.20 L322.50,328.20 L323.00,328.19 L323.50,328.19 L324.00,328.19 L324.50,328.18 L325.00,328.18 L325.50,328.18 L326.00,328.17 L326.50,328.17 L327.00,328.17 L327.50,328.16 L328.00,328.16 L328.50,328.15 L329.00,328.15 L329.50,328.14 L330.00,328.14 L330.50,328.13 L331.00,328.13 L331.50,328.12 L332.00,328.12 L332.50,328.11 L333.00,328.11 L333.50,328.10 L334.00,328.09 L334.50,328.09 L335.00,328.08 L335.50,328.07 L336.00,328.06 L336.50,328.06 L337.00,328.05 L337.50,328.04 L338.00,328.03 L338.50,328.02 L339.00,328.01 L339.50,327.99 L340.00,327.98 L340.50,327.97 L341.00,327.95 L341.50,327.93 L342.00,327.91 L342.50,327.88 L343.00,327.85 L343.50,327.81 L344.00,327.75 L344.50,327.66 L345.00,327.55 L345.50,327.39 L346.00,327.18 L346.50,326.92 L347.00,326.58 L347.50,326.18 L348.00,325.72 L348.50,325.23 L349.00,324.72 L349.50,324.25 L350.00,323.85 L350.50,323.57 L351.00,323.45 L351.50,323.50 L352.00,323.70 L352.50,324.01 L353.00,324.40 L353.50,324.79 L354.00,325.16 L354.50,325.45 L355.00,325.65 L355.50,325.71 L356.00,325.61 L356.50,325.33 L357.00,324.86 L357.50,324.16 L358.00,323.24 L358.50,322.10 L359.00,320.74 L359.50,319.21 L360.00,317.56 L360.50,315.89 L361.00,314.30 L361.50,312.93 L362.00,311.94 L362.50,311.43 L363.00,311.47 L363.50,312.00 L364.00,312.91 L364.50,314.04 L365.00,315.23 L365.50,316.37 L366.00,317.36 L366.50,318.16 L367.00,318.78 L367.50,319.24 L368.00,319.60 L368.50,319.90 L369.00,320.20 L369.50,320.53 L370.00,320.87 L370.50,321.15 L371.00,321.22 L371.50,320.81 L372.00,319.57 L372.50,317.08 L373.00,313.11 L373.50,307.83 L374.00,302.01 L374.50,296.98 L375.00,294.30 L375.50,294.73 L376.00,297.53 L376.50,301.19 L377.00,304.40 L377.50,306.43 L378.00,307.13 L378.50,306.76 L379.00,305.74 L379.50,304.44 L380.00,303.09 L380.50,301.82 L381.00,300.64 L381.50,299.52 L382.00,298.38 L382.50,297.11 L383.00,295.59 L383.50,293.73 L384.00,291.47 L384.50,288.81 L385.00,285.79 L385.50,282.55 L386.00,279.31 L386.50,276.35 L387.00,274.01 L387.50,272.65 L388.00,272.53 L388.50,273.73 L389.00,276.13 L389.50,279.41 L390.00,283.14 L390.50,286.89 L391.00,290.34 L391.50,293.29 L392.00,295.69 L392.50,297.62 L393.00,299.15 L393.50,300.29 L394.00,300.92 L394.50,300.82 L395.00,299.84 L395.50,298.02 L396.00,295.73 L396.50,293.64 L397.00,292.59 L397.50,293.20 L398.00,295.52 L398.50,299.03 L399.00,302.99 L399.50,306.73 L400.00,309.78 L400.50,311.88 L401.00,312.97 L401.50,313.11 L402.00,312.45 L402.50,311.10 L403.00,309.13 L403.50,306.57 L404.00,303.41 L404.50,299.62 L405.00,295.15 L405.50,289.97 L406.00,284.10 L406.50,277.57 L407.00,270.48 L407.50,262.96 L408.00,255.21 L408.50,247.47 L409.00,240.04 L409.50,233.24 L410.00,227.44 L410.50,222.98 L411.00,220.17 L411.50,219.23 L412.00,220.23 L412.50,223.11 L413.00,227.64 L413.50,233.53 L414.00,240.44 L414.50,247.99 L415.00,255.87 L415.50,263.77 L416.00,271.44 L416.50,278.66 L417.00,285.29 L417.50,291.20 L418.00,296.34 L418.50,300.70 L419.00,304.29 L419.50,307.19 L420.00,309.48 L420.50,311.26 L421.00,312.63 L421.50,313.67 L422.00,314.49 L422.50,315.12 L423.00,315.63 L423.50,316.04 L424.00,316.37 L424.50,316.64 L425.00,316.85 L425.50,317.04 L426.00,317.22 L426.50,317.40 L427.00,317.62 L427.50,317.88 L428.00,318.19 L428.50,318.56 L429.00,318.98 L429.50,319.44 L430.00,319.93 L430.50,320.43 L431.00,320.91 L431.50,321.35 L432.00,321.73 L432.50,322.04 L433.00,322.24 L433.50,322.32 L434.00,322.26 L434.50,322.05 L435.00,321.64 L435.50,321.04 L436.00,320.19 L436.50,319.09 L437.00,317.68 L437.50,315.95 L438.00,313.87 L438.50,311.39 L439.00,308.51 L439.50,305.21 L440.00,301.50 L440.50,297.38 L441.00,292.90 L441.50,288.10 L442.00,283.05 L442.50,277.84 L443.00,272.58 L443.50,267.40 L444.00,262.42 L444.50,257.80 L445.00,253.69 L445.50,250.22 L446.00,247.52 L446.50,245.66 L447.00,244.66 L447.50,244.50 L448.00,245.11 L448.50,246.40 L449.00,248.28 L449.50,250.70 L450.00,253.58 L450.50,256.90 L451.00,260.65 L451.50,264.78 L452.00,269.27 L452.50,274.07 L453.00,279.09 L453.50,284.23 L454.00,289.37 L454.50,294.39 L455.00,299.16 L455.50,303.59 L456.00,307.58 L456.50,311.08 L457.00,314.06 L457.50,316.54 L458.00,318.55 L458.50,320.14 L459.00,321.38 L459.50,322.33 L460.00,323.07 L460.50,323.66 L461.00,324.13 L461.50,324.53 L462.00,324.89 L462.50,325.20 L463.00,325.48 L463.50,325.72 L464.00,325.89 L464.50,325.96 L465.00,325.85 L465.50,325.45 L466.00,324.66 L466.50,323.46 L467.00,321.97 L467.50,320.55 L468.00,319.71 L468.50,319.87 L469.00,320.98 L469.50,322.57 L470.00,324.15 L470.50,325.43 L471.00,326.29 L471.50,326.82 L472.00,327.10 L472.50,327.25 L473.00,327.34 L473.50,327.40 L474.00,327.45 L474.50,327.48 L475.00,327.52 L475.50,327.55 L476.00,327.58 L476.50,327.60 L477.00,327.62 L477.50,327.65 L478.00,327.66 L478.50,327.68 L479.00,327.70 L479.50,327.71 L480.00,327.72 L480.50,327.72 L481.00,327.72 L481.50,327.72 L482.00,327.70 L482.50,327.66 L483.00,327.60 L483.50,327.51 L484.00,327.39 L484.50,327.22 L485.00,327.00 L485.50,326.74 L486.00,326.44 L486.50,326.11 L487.00,325.78 L487.50,325.47 L488.00,325.22 L488.50,325.05 L489.00,325.00 L489.50,325.07 L490.00,325.25 L490.50,325.52 L491.00,325.85 L491.50,326.20 L492.00,326.54 L492.50,326.86 L493.00,327.14 L493.50,327.37 L494.00,327.56 L494.50,327.70 L495.00,327.81 L495.50,327.88 L496.00,327.94 L496.50,327.98 L497.00,328.01 L497.50,328.03 L498.00,328.04 L498.50,328.06 L499.00,328.07 L499.50,328.08 L500.00,328.09 L500.50,328.09 L501.00,328.10 L501.50,328.11 L502.00,328.11 L502.50,328.12 L503.00,328.13 L503.50,328.13 L504.00,328.14 L504.50,328.14 L505.00,328.15 L505.50,328.15 L506.00,328.15 L506.50,328.16 L507.00,328.16 L507.50,328.17 L508.00,328.17 L508.50,328.17 L509.00,328.18 L509.50,328.18 L510.00,328.18 L510.50,328.19 L511.00,328.19 L511.50,328.19 L512.00,328.20 L512.50,328.20 L513.00,328.20 L513.50,328.21 L514.00,328.21 L514.50,328.21 L515.00,328.21 L515.50,328.22 L516.00,328.22 L516.50,328.22 L517.00,328.22 L517.50,328.23 L518.00,328.23 L518.50,328.23 L519.00,328.23 L519.50,328.23 L520.00,328.24 L520.50,328.24 L521.00,328.24 L521.50,328.24 L522.00,328.24 L522.50,328.25 L523.00,328.25 L523.50,328.25 L524.00,328.25 L524.50,328.25 L525.00,328.25 L525.50,328.26 L526.00,328.26 L526.50,328.26 L527.00,328.26 L527.50,328.26 L528.00,328.26 L528.50,328.26 L529.00,328.27 L529.50,328.27 L530.00,328.27 L530.50,328.27 L531.00,328.27 L531.50,328.27 L532.00,328.27 L532.50,328.28 L533.00,328.28 L533.50,328.28" fill="none" stroke="#b6b6ea" stroke-width="1.1" stroke-linejoin="round"/>
<text x="350.8" y="319.3" font-size="6.9" text-anchor="middle" font-weight="normal" fill="#222" stroke="#222" stroke-width="0.12">5.15</text>
<text x="365" y="308.4" font-size="6.9" text-anchor="middle" font-weight="normal" fill="#222" stroke="#222" stroke-width="0.12">5.20</text>
<text x="376" y="291.2" font-size="6.9" text-anchor="middle" font-weight="normal" fill="#222" stroke="#222" stroke-width="0.12">5.30</text>
<text x="388.3" y="270.1" font-size="6.9" text-anchor="middle" font-weight="normal" fill="#222" stroke="#222" stroke-width="0.12">5.36</text>
<text x="399.3" y="291.2" font-size="6.9" text-anchor="middle" font-weight="normal" fill="#222" stroke="#222" stroke-width="0.12">5.41</text>
<text x="412.9" y="214.9" font-size="6.9" text-anchor="middle" font-weight="normal" fill="#222" stroke="#222" stroke-width="0.12">5.51</text>
<text x="429.3" y="309.6" font-size="6.9" text-anchor="middle" font-weight="normal" fill="#222" stroke="#222" stroke-width="0.12">5.60</text>
<text x="448.3" y="239.6" font-size="6.9" text-anchor="middle" font-weight="normal" fill="#222" stroke="#222" stroke-width="0.12">5.74</text>
<text x="470.5" y="316" font-size="6.9" text-anchor="middle" font-weight="normal" fill="#222" stroke="#222" stroke-width="0.12">5.88</text>
<text x="489.5" y="321.5" font-size="6.9" text-anchor="middle" font-weight="normal" fill="#222" stroke="#222" stroke-width="0.12">6.02</text>
<text x="7.3" y="383.2" font-size="12.1" text-anchor="start" font-weight="bold" fill="#000" >E</text>
<text x="51" y="403" font-size="8.6" text-anchor="start" font-weight="normal" fill="#111" stroke="#111" stroke-width="0.15">p-Akt2 (S474)</text>
<text x="19.1" y="460.8" font-size="8.6" text-anchor="middle" font-weight="normal" fill="#0c0c0c" transform="rotate(-90 19.1 460.8)" dominant-baseline="central" stroke="#161616" stroke-width="0.2">Chemiluminescence</text>
<text x="60.6" y="531.1" font-size="8.7" text-anchor="middle" font-weight="normal" fill="#0c0c0c" stroke="#0c0c0c" stroke-width="0.25">5.0</text>
<text x="91.25" y="531.1" font-size="8.7" text-anchor="middle" font-weight="normal" fill="#0c0c0c" stroke="#0c0c0c" stroke-width="0.25">5.2</text>
<text x="121.9" y="531.1" font-size="8.7" text-anchor="middle" font-weight="normal" fill="#0c0c0c" stroke="#0c0c0c" stroke-width="0.25">5.4</text>
<text x="152.54999999999998" y="531.1" font-size="8.7" text-anchor="middle" font-weight="normal" fill="#0c0c0c" stroke="#0c0c0c" stroke-width="0.25">5.6</text>
<text x="183.2" y="531.1" font-size="8.7" text-anchor="middle" font-weight="normal" fill="#0c0c0c" stroke="#0c0c0c" stroke-width="0.25">5.8</text>
<text x="213.85" y="531.1" font-size="8.7" text-anchor="middle" font-weight="normal" fill="#0c0c0c" stroke="#0c0c0c" stroke-width="0.25">6.0</text>
<text x="244.49999999999997" y="531.1" font-size="8.7" text-anchor="middle" font-weight="normal" fill="#0c0c0c" stroke="#0c0c0c" stroke-width="0.25">6.2</text>
<text x="152.5" y="543" font-size="8.6" text-anchor="middle" font-weight="normal" fill="#0c0c0c" stroke="#0c0c0c" stroke-width="0.25">pI</text>
<line x1="45" y1="395" x2="45" y2="522" stroke="#f0f0f0" stroke-width="1"/>
<line x1="45" y1="519.6" x2="260" y2="519.6" stroke="#e9e9e9" stroke-width="1"/>
<text x="43.5" y="410.1" font-size="8.6" text-anchor="end" font-weight="normal" fill="#0c0c0c" stroke="#0c0c0c" stroke-width="0.25">100</text>
<text x="43.5" y="425.40000000000003" font-size="8.6" text-anchor="end" font-weight="normal" fill="#0c0c0c" stroke="#0c0c0c" stroke-width="0.25">0</text>
<path d="M75.00,422.04 L75.50,422.00 L76.00,421.94 L76.50,421.88 L77.00,421.80 L77.50,421.72 L78.00,421.62 L78.50,421.52 L79.00,421.42 L79.50,421.33 L80.00,421.25 L80.50,421.19 L81.00,421.15 L81.50,421.15 L82.00,421.17 L82.50,421.22 L83.00,421.29 L83.50,421.38 L84.00,421.47 L84.50,421.56 L85.00,421.65 L85.50,421.73 L86.00,421.79 L86.50,421.85 L87.00,421.89 L87.50,421.92 L88.00,421.94 L88.50,421.94 L89.00,421.93 L89.50,421.91 L90.00,421.86 L90.50,421.80 L91.00,421.70 L91.50,421.57 L92.00,421.39 L92.50,421.16 L93.00,420.88 L93.50,420.54 L94.00,420.14 L94.50,419.70 L95.00,419.24 L95.50,418.78 L96.00,418.35 L96.50,418.00 L97.00,417.76 L97.50,417.68 L98.00,417.76 L98.50,418.00 L99.00,418.35 L99.50,418.78 L100.00,419.24 L100.50,419.71 L101.00,420.14 L101.50,420.54 L102.00,420.88 L102.50,421.17 L103.00,421.39 L103.50,421.57 L104.00,421.71 L104.50,421.81 L105.00,421.88 L105.50,421.93 L106.00,421.97 L106.50,422.00 L107.00,422.01 L107.50,422.03 L108.00,422.04 L108.50,422.04 L109.00,422.05 L109.50,422.05 L110.00,422.04 L110.50,422.03 L111.00,422.02 L111.50,421.99 L112.00,421.95 L112.50,421.90 L113.00,421.83 L113.50,421.74 L114.00,421.63 L114.50,421.49 L115.00,421.33 L115.50,421.16 L116.00,420.97 L116.50,420.77 L117.00,420.58 L117.50,420.42 L118.00,420.28 L118.50,420.20 L119.00,420.17 L119.50,420.20 L120.00,420.29 L120.50,420.43 L121.00,420.60 L121.50,420.79 L122.00,420.98 L122.50,421.18 L123.00,421.36 L123.50,421.52 L124.00,421.66 L124.50,421.78 L125.00,421.87 L125.50,421.94 L126.00,422.00 L126.50,422.04 L127.00,422.08 L127.50,422.10 L128.00,422.11 L128.00,422.20 L75.00,422.20 Z" fill="#efefef" stroke="none"/>
<path d="M45.50,422.19 L46.00,422.19 L46.50,422.19 L47.00,422.19 L47.50,422.19 L48.00,422.19 L48.50,422.19 L49.00,422.19 L49.50,422.19 L50.00,422.19 L50.50,422.19 L51.00,422.19 L51.50,422.19 L52.00,422.19 L52.50,422.19 L53.00,422.19 L53.50,422.19 L54.00,422.19 L54.50,422.19 L55.00,422.19 L55.50,422.19 L56.00,422.19 L56.50,422.19 L57.00,422.19 L57.50,422.19 L58.00,422.19 L58.50,422.18 L59.00,422.18 L59.50,422.18 L60.00,422.18 L60.50,422.18 L61.00,422.18 L61.50,422.18 L62.00,422.18 L62.50,422.18 L63.00,422.18 L63.50,422.18 L64.00,422.18 L64.50,422.18 L65.00,422.18 L65.50,422.18 L66.00,422.17 L66.50,422.17 L67.00,422.17 L67.50,422.17 L68.00,422.17 L68.50,422.17 L69.00,422.17 L69.50,422.16 L70.00,422.16 L70.50,422.16 L71.00,422.16 L71.50,422.15 L72.00,422.15 L72.50,422.14 L73.00,422.13 L73.50,422.11 L74.00,422.10 L74.50,422.07 L75.00,422.04 L75.50,422.00 L76.00,421.94 L76.50,421.88 L77.00,421.80 L77.50,421.72 L78.00,421.62 L78.50,421.52 L79.00,421.42 L79.50,421.33 L80.00,421.25 L80.50,421.19 L81.00,421.15 L81.50,421.15 L82.00,421.17 L82.50,421.22 L83.00,421.29 L83.50,421.38 L84.00,421.47 L84.50,421.56 L85.00,421.65 L85.50,421.73 L86.00,421.79 L86.50,421.85 L87.00,421.89 L87.50,421.92 L88.00,421.94 L88.50,421.94 L89.00,421.93 L89.50,421.91 L90.00,421.86 L90.50,421.80 L91.00,421.70 L91.50,421.57 L92.00,421.39 L92.50,421.16 L93.00,420.88 L93.50,420.54 L94.00,420.14 L94.50,419.70 L95.00,419.24 L95.50,418.78 L96.00,418.35 L96.50,418.00 L97.00,417.76 L97.50,417.68 L98.00,417.76 L98.50,418.00 L99.00,418.35 L99.50,418.78 L100.00,419.24 L100.50,419.71 L101.00,420.14 L101.50,420.54 L102.00,420.88 L102.50,421.17 L103.00,421.39 L103.50,421.57 L104.00,421.71 L104.50,421.81 L105.00,421.88 L105.50,421.93 L106.00,421.97 L106.50,422.00 L107.00,422.01 L107.50,422.03 L108.00,422.04 L108.50,422.04 L109.00,422.05 L109.50,422.05 L110.00,422.04 L110.50,422.03 L111.00,422.02 L111.50,421.99 L112.00,421.95 L112.50,421.90 L113.00,421.83 L113.50,421.74 L114.00,421.63 L114.50,421.49 L115.00,421.33 L115.50,421.16 L116.00,420.97 L116.50,420.77 L117.00,420.58 L117.50,420.42 L118.00,420.28 L118.50,420.20 L119.00,420.17 L119.50,420.20 L120.00,420.29 L120.50,420.43 L121.00,420.60 L121.50,420.79 L122.00,420.98 L122.50,421.18 L123.00,421.36 L123.50,421.52 L124.00,421.66 L124.50,421.78 L125.00,421.87 L125.50,421.94 L126.00,422.00 L126.50,422.04 L127.00,422.08 L127.50,422.10 L128.00,422.11 L128.50,422.13 L129.00,422.14 L129.50,422.14 L130.00,422.15 L130.50,422.15 L131.00,422.15 L131.50,422.16 L132.00,422.16 L132.50,422.16 L133.00,422.16 L133.50,422.17 L134.00,422.17 L134.50,422.17 L135.00,422.17 L135.50,422.17 L136.00,422.17 L136.50,422.17 L137.00,422.18 L137.50,422.18 L138.00,422.18 L138.50,422.18 L139.00,422.18 L139.50,422.18 L140.00,422.18 L140.50,422.18 L141.00,422.18 L141.50,422.18 L142.00,422.18 L142.50,422.18 L143.00,422.18 L143.50,422.18 L144.00,422.19 L144.50,422.19 L145.00,422.19 L145.50,422.19 L146.00,422.19 L146.50,422.19 L147.00,422.19 L147.50,422.19 L148.00,422.19 L148.50,422.19 L149.00,422.19 L149.50,422.19 L150.00,422.19 L150.50,422.19 L151.00,422.19 L151.50,422.19 L152.00,422.19 L152.50,422.19 L153.00,422.19 L153.50,422.19 L154.00,422.19 L154.50,422.19 L155.00,422.19 L155.50,422.19 L156.00,422.19 L156.50,422.19 L157.00,422.19 L157.50,422.19 L158.00,422.19 L158.50,422.19 L159.00,422.19 L159.50,422.19 L160.00,422.19 L160.50,422.19 L161.00,422.19 L161.50,422.19 L162.00,422.19 L162.50,422.19 L163.00,422.19 L163.50,422.19 L164.00,422.19 L164.50,422.19 L165.00,422.19 L165.50,422.19 L166.00,422.19 L166.50,422.19 L167.00,422.19 L167.50,422.19 L168.00,422.19 L168.50,422.19 L169.00,422.19 L169.50,422.20 L170.00,422.20 L170.50,422.20 L171.00,422.20 L171.50,422.20 L172.00,422.20 L172.50,422.20 L173.00,422.20 L173.50,422.20 L174.00,422.20 L174.50,422.20 L175.00,422.20 L175.50,422.20 L176.00,422.20 L176.50,422.20 L177.00,422.20 L177.50,422.20 L178.00,422.20 L178.50,422.20 L179.00,422.20 L179.50,422.20 L180.00,422.20 L180.50,422.20 L181.00,422.20 L181.50,422.20 L182.00,422.20 L182.50,422.20 L183.00,422.20 L183.50,422.20 L184.00,422.20 L184.50,422.20 L185.00,422.20 L185.50,422.20 L186.00,422.20 L186.50,422.20 L187.00,422.20 L187.50,422.20 L188.00,422.20 L188.50,422.20 L189.00,422.20 L189.50,422.20 L190.00,422.20 L190.50,422.20 L191.00,422.20 L191.50,422.20 L192.00,422.20 L192.50,422.20 L193.00,422.20 L193.50,422.20 L194.00,422.20 L194.50,422.20 L195.00,422.20 L195.50,422.20 L196.00,422.20 L196.50,422.20 L197.00,422.20 L197.50,422.20 L198.00,422.20 L198.50,422.20 L199.00,422.20 L199.50,422.20 L200.00,422.20 L200.50,422.20 L201.00,422.20 L201.50,422.20 L202.00,422.20 L202.50,422.20 L203.00,422.20 L203.50,422.20 L204.00,422.20 L204.50,422.20 L205.00,422.20 L205.50,422.20 L206.00,422.20 L206.50,422.20 L207.00,422.20 L207.50,422.20 L208.00,422.20 L208.50,422.20 L209.00,422.20 L209.50,422.20 L210.00,422.20 L210.50,422.20 L211.00,422.20 L211.50,422.20 L212.00,422.20 L212.50,422.20 L213.00,422.20 L213.50,422.20 L214.00,422.20 L214.50,422.20 L215.00,422.20 L215.50,422.20 L216.00,422.20 L216.50,422.20 L217.00,422.20 L217.50,422.20 L218.00,422.20 L218.50,422.20 L219.00,422.20 L219.50,422.20 L220.00,422.20 L220.50,422.20 L221.00,422.20 L221.50,422.20 L222.00,422.20 L222.50,422.20 L223.00,422.20 L223.50,422.20 L224.00,422.20 L224.50,422.20 L225.00,422.20 L225.50,422.20 L226.00,422.20 L226.50,422.20 L227.00,422.20 L227.50,422.20 L228.00,422.20 L228.50,422.20 L229.00,422.20 L229.50,422.20 L230.00,422.20 L230.50,422.20 L231.00,422.20 L231.50,422.20 L232.00,422.20 L232.50,422.20 L233.00,422.20 L233.50,422.20 L234.00,422.20 L234.50,422.20 L235.00,422.20 L235.50,422.20 L236.00,422.20 L236.50,422.20 L237.00,422.20 L237.50,422.20 L238.00,422.20 L238.50,422.20 L239.00,422.20 L239.50,422.20 L240.00,422.20 L240.50,422.20 L241.00,422.20 L241.50,422.20 L242.00,422.20 L242.50,422.20 L243.00,422.20 L243.50,422.20 L244.00,422.20 L244.50,422.20 L245.00,422.20 L245.50,422.20 L246.00,422.20 L246.50,422.20 L247.00,422.20 L247.50,422.20 L248.00,422.20 L248.50,422.20 L249.00,422.20 L249.50,422.20 L250.00,422.20 L250.50,422.20 L251.00,422.20 L251.50,422.20 L252.00,422.20 L252.50,422.20 L253.00,422.20 L253.50,422.20 L254.00,422.20 L254.50,422.20 L255.00,422.20 L255.50,422.20 L256.00,422.20 L256.50,422.20 L257.00,422.20 L257.50,422.20 L258.00,422.20 L258.50,422.20 L259.00,422.20 L259.50,422.20 L260.00,422.20" fill="none" stroke="#b6b6ea" stroke-width="1.1"/>
<text x="254" y="418" font-size="8.6" text-anchor="end" font-weight="normal" fill="#000" stroke="#000" stroke-width="0.2">+ insulin</text>
<text x="81.3" y="417.3" font-size="6.9" text-anchor="middle" font-weight="normal" fill="#222" stroke="#222" stroke-width="0.12">5.15</text>
<text x="99.1" y="414.1" font-size="6.9" text-anchor="middle" font-weight="normal" fill="#222" stroke="#222" stroke-width="0.12">5.20</text>
<text x="120" y="415.3" font-size="6.9" text-anchor="middle" font-weight="normal" fill="#222" stroke="#222" stroke-width="0.12">5.36</text>
<text x="43.5" y="442.3" font-size="8.6" text-anchor="end" font-weight="normal" fill="#0c0c0c" stroke="#0c0c0c" stroke-width="0.25">100</text>
<text x="43.5" y="457.1" font-size="8.6" text-anchor="end" font-weight="normal" fill="#0c0c0c" stroke="#0c0c0c" stroke-width="0.25">0</text>
<path d="M58.00,454.00 L58.50,453.99 L59.00,453.99 L59.50,453.98 L60.00,453.97 L60.50,453.96 L61.00,453.95 L61.50,453.93 L62.00,453.90 L62.50,453.87 L63.00,453.82 L63.50,453.76 L64.00,453.69 L64.50,453.60 L65.00,453.48 L65.50,453.34 L66.00,453.17 L66.50,452.99 L67.00,452.78 L67.50,452.55 L68.00,452.31 L68.50,452.08 L69.00,451.84 L69.50,451.63 L70.00,451.44 L70.50,451.29 L71.00,451.18 L71.50,451.12 L72.00,451.10 L72.50,451.10 L73.00,451.13 L73.50,451.16 L74.00,451.18 L74.50,451.17 L75.00,451.12 L75.50,451.00 L76.00,450.82 L76.50,450.56 L77.00,450.23 L77.50,449.83 L78.00,449.37 L78.50,448.87 L79.00,448.33 L79.50,447.78 L80.00,447.25 L80.50,446.76 L81.00,446.32 L81.50,445.97 L82.00,445.73 L82.50,445.59 L83.00,445.58 L83.50,445.69 L84.00,445.90 L84.50,446.21 L85.00,446.59 L85.50,447.02 L86.00,447.47 L86.50,447.93 L87.00,448.37 L87.50,448.77 L88.00,449.14 L88.50,449.46 L89.00,449.72 L89.50,449.92 L90.00,450.07 L90.50,450.16 L91.00,450.19 L91.50,450.16 L92.00,450.06 L92.50,449.88 L93.00,449.63 L93.50,449.28 L94.00,448.85 L94.50,448.32 L95.00,447.70 L95.50,447.00 L96.00,446.23 L96.50,445.40 L97.00,444.52 L97.50,443.63 L98.00,442.74 L98.50,441.88 L99.00,441.09 L99.50,440.38 L100.00,439.79 L100.50,439.35 L101.00,439.07 L101.50,438.96 L102.00,439.04 L102.50,439.30 L103.00,439.72 L103.50,440.28 L104.00,440.96 L104.50,441.73 L105.00,442.56 L105.50,443.42 L106.00,444.30 L106.50,445.16 L107.00,446.00 L107.50,446.79 L108.00,447.53 L108.50,448.20 L109.00,448.81 L109.50,449.35 L110.00,449.82 L110.50,450.23 L111.00,450.57 L111.50,450.85 L112.00,451.08 L112.50,451.25 L113.00,451.37 L113.50,451.45 L114.00,451.49 L114.50,451.48 L115.00,451.44 L115.50,451.35 L116.00,451.23 L116.50,451.07 L117.00,450.88 L117.50,450.67 L118.00,450.42 L118.50,450.16 L119.00,449.89 L119.50,449.62 L120.00,449.36 L120.50,449.11 L121.00,448.89 L121.50,448.71 L122.00,448.58 L122.50,448.49 L123.00,448.47 L123.50,448.51 L124.00,448.60 L124.50,448.76 L125.00,448.97 L125.50,449.22 L126.00,449.51 L126.50,449.83 L127.00,450.16 L127.50,450.51 L128.00,450.86 L128.50,451.20 L129.00,451.53 L129.50,451.85 L130.00,452.14 L130.50,452.41 L131.00,452.65 L131.50,452.87 L132.00,453.06 L132.50,453.22 L133.00,453.36 L133.50,453.48 L134.00,453.58 L134.50,453.66 L135.00,453.73 L135.50,453.78 L136.00,453.83 L136.50,453.86 L137.00,453.89 L137.50,453.91 L138.00,453.93 L138.00,454.10 L58.00,454.10 Z" fill="#efefef" stroke="none"/>
<path d="M45.50,454.05 L46.00,454.05 L46.50,454.05 L47.00,454.05 L47.50,454.04 L48.00,454.04 L48.50,454.04 L49.00,454.04 L49.50,454.04 L50.00,454.04 L50.50,454.04 L51.00,454.03 L51.50,454.03 L52.00,454.03 L52.50,454.03 L53.00,454.03 L53.50,454.02 L54.00,454.02 L54.50,454.02 L55.00,454.02 L55.50,454.01 L56.00,454.01 L56.50,454.01 L57.00,454.00 L57.50,454.00 L58.00,454.00 L58.50,453.99 L59.00,453.99 L59.50,453.98 L60.00,453.97 L60.50,453.96 L61.00,453.95 L61.50,453.93 L62.00,453.90 L62.50,453.87 L63.00,453.82 L63.50,453.76 L64.00,453.69 L64.50,453.60 L65.00,453.48 L65.50,453.34 L66.00,453.17 L66.50,452.99 L67.00,452.78 L67.50,452.55 L68.00,452.31 L68.50,452.08 L69.00,451.84 L69.50,451.63 L70.00,451.44 L70.50,451.29 L71.00,451.18 L71.50,451.12 L72.00,451.10 L72.50,451.10 L73.00,451.13 L73.50,451.16 L74.00,451.18 L74.50,451.17 L75.00,451.12 L75.50,451.00 L76.00,450.82 L76.50,450.56 L77.00,450.23 L77.50,449.83 L78.00,449.37 L78.50,448.87 L79.00,448.33 L79.50,447.78 L80.00,447.25 L80.50,446.76 L81.00,446.32 L81.50,445.97 L82.00,445.73 L82.50,445.59 L83.00,445.58 L83.50,445.69 L84.00,445.90 L84.50,446.21 L85.00,446.59 L85.50,447.02 L86.00,447.47 L86.50,447.93 L87.00,448.37 L87.50,448.77 L88.00,449.14 L88.50,449.46 L89.00,449.72 L89.50,449.92 L90.00,450.07 L90.50,450.16 L91.00,450.19 L91.50,450.16 L92.00,450.06 L92.50,449.88 L93.00,449.63 L93.50,449.28 L94.00,448.85 L94.50,448.32 L95.00,447.70 L95.50,447.00 L96.00,446.23 L96.50,445.40 L97.00,444.52 L97.50,443.63 L98.00,442.74 L98.50,441.88 L99.00,441.09 L99.50,440.38 L100.00,439.79 L100.50,439.35 L101.00,439.07 L101.50,438.96 L102.00,439.04 L102.50,439.30 L103.00,439.72 L103.50,440.28 L104.00,440.96 L104.50,441.73 L105.00,442.56 L105.50,443.42 L106.00,444.30 L106.50,445.16 L107.00,446.00 L107.50,446.79 L108.00,447.53 L108.50,448.20 L109.00,448.81 L109.50,449.35 L110.00,449.82 L110.50,450.23 L111.00,450.57 L111.50,450.85 L112.00,451.08 L112.50,451.25 L113.00,451.37 L113.50,451.45 L114.00,451.49 L114.50,451.48 L115.00,451.44 L115.50,451.35 L116.00,451.23 L116.50,451.07 L117.00,450.88 L117.50,450.67 L118.00,450.42 L118.50,450.16 L119.00,449.89 L119.50,449.62 L120.00,449.36 L120.50,449.11 L121.00,448.89 L121.50,448.71 L122.00,448.58 L122.50,448.49 L123.00,448.47 L123.50,448.51 L124.00,448.60 L124.50,448.76 L125.00,448.97 L125.50,449.22 L126.00,449.51 L126.50,449.83 L127.00,450.16 L127.50,450.51 L128.00,450.86 L128.50,451.20 L129.00,451.53 L129.50,451.85 L130.00,452.14 L130.50,452.41 L131.00,452.65 L131.50,452.87 L132.00,453.06 L132.50,453.22 L133.00,453.36 L133.50,453.48 L134.00,453.58 L134.50,453.66 L135.00,453.73 L135.50,453.78 L136.00,453.83 L136.50,453.86 L137.00,453.89 L137.50,453.91 L138.00,453.93 L138.50,453.95 L139.00,453.96 L139.50,453.97 L140.00,453.97 L140.50,453.98 L141.00,453.99 L141.50,453.99 L142.00,454.00 L142.50,454.00 L143.00,454.00 L143.50,454.01 L144.00,454.01 L144.50,454.01 L145.00,454.02 L145.50,454.02 L146.00,454.02 L146.50,454.02 L147.00,454.02 L147.50,454.03 L148.00,454.03 L148.50,454.03 L149.00,454.03 L149.50,454.03 L150.00,454.04 L150.50,454.04 L151.00,454.04 L151.50,454.04 L152.00,454.04 L152.50,454.04 L153.00,454.04 L153.50,454.05 L154.00,454.05 L154.50,454.05 L155.00,454.05 L155.50,454.05 L156.00,454.05 L156.50,454.05 L157.00,454.05 L157.50,454.05 L158.00,454.05 L158.50,454.06 L159.00,454.06 L159.50,454.06 L160.00,454.06 L160.50,454.06 L161.00,454.06 L161.50,454.06 L162.00,454.06 L162.50,454.06 L163.00,454.06 L163.50,454.06 L164.00,454.06 L164.50,454.06 L165.00,454.07 L165.50,454.07 L166.00,454.07 L166.50,454.07 L167.00,454.07 L167.50,454.07 L168.00,454.07 L168.50,454.07 L169.00,454.07 L169.50,454.07 L170.00,454.07 L170.50,454.07 L171.00,454.07 L171.50,454.07 L172.00,454.07 L172.50,454.07 L173.00,454.07 L173.50,454.07 L174.00,454.07 L174.50,454.07 L175.00,454.07 L175.50,454.08 L176.00,454.08 L176.50,454.08 L177.00,454.08 L177.50,454.08 L178.00,454.08 L178.50,454.08 L179.00,454.08 L179.50,454.08 L180.00,454.08 L180.50,454.08 L181.00,454.08 L181.50,454.08 L182.00,454.08 L182.50,454.08 L183.00,454.08 L183.50,454.08 L184.00,454.08 L184.50,454.08 L185.00,454.08 L185.50,454.08 L186.00,454.08 L186.50,454.08 L187.00,454.08 L187.50,454.08 L188.00,454.08 L188.50,454.08 L189.00,454.08 L189.50,454.08 L190.00,454.08 L190.50,454.08 L191.00,454.08 L191.50,454.08 L192.00,454.08 L192.50,454.08 L193.00,454.08 L193.50,454.08 L194.00,454.08 L194.50,454.08 L195.00,454.08 L195.50,454.08 L196.00,454.09 L196.50,454.09 L197.00,454.09 L197.50,454.09 L198.00,454.09 L198.50,454.09 L199.00,454.09 L199.50,454.09 L200.00,454.09 L200.50,454.09 L201.00,454.09 L201.50,454.09 L202.00,454.09 L202.50,454.09 L203.00,454.09 L203.50,454.09 L204.00,454.09 L204.50,454.09 L205.00,454.09 L205.50,454.09 L206.00,454.09 L206.50,454.09 L207.00,454.09 L207.50,454.09 L208.00,454.09 L208.50,454.09 L209.00,454.09 L209.50,454.09 L210.00,454.09 L210.50,454.09 L211.00,454.09 L211.50,454.09 L212.00,454.09 L212.50,454.09 L213.00,454.09 L213.50,454.09 L214.00,454.09 L214.50,454.09 L215.00,454.09 L215.50,454.09 L216.00,454.09 L216.50,454.09 L217.00,454.09 L217.50,454.09 L218.00,454.09 L218.50,454.09 L219.00,454.09 L219.50,454.09 L220.00,454.09 L220.50,454.09 L221.00,454.09 L221.50,454.09 L222.00,454.09 L222.50,454.09 L223.00,454.09 L223.50,454.09 L224.00,454.09 L224.50,454.09 L225.00,454.09 L225.50,454.09 L226.00,454.09 L226.50,454.09 L227.00,454.09 L227.50,454.09 L228.00,454.09 L228.50,454.09 L229.00,454.09 L229.50,454.09 L230.00,454.09 L230.50,454.09 L231.00,454.09 L231.50,454.09 L232.00,454.09 L232.50,454.09 L233.00,454.09 L233.50,454.09 L234.00,454.09 L234.50,454.09 L235.00,454.09 L235.50,454.09 L236.00,454.09 L236.50,454.09 L237.00,454.09 L237.50,454.09 L238.00,454.09 L238.50,454.09 L239.00,454.09 L239.50,454.09 L240.00,454.09 L240.50,454.09 L241.00,454.09 L241.50,454.09 L242.00,454.09 L242.50,454.09 L243.00,454.09 L243.50,454.09 L244.00,454.09 L244.50,454.09 L245.00,454.09 L245.50,454.09 L246.00,454.09 L246.50,454.09 L247.00,454.09 L247.50,454.09 L248.00,454.09 L248.50,454.09 L249.00,454.09 L249.50,454.09 L250.00,454.09 L250.50,454.09 L251.00,454.09 L251.50,454.09 L252.00,454.09 L252.50,454.09 L253.00,454.09 L253.50,454.09 L254.00,454.09 L254.50,454.09 L255.00,454.09 L255.50,454.09 L256.00,454.09 L256.50,454.09 L257.00,454.09 L257.50,454.09 L258.00,454.09 L258.50,454.09 L259.00,454.09 L259.50,454.09 L260.00,454.09" fill="none" stroke="#b6b6ea" stroke-width="1.1"/>
<text x="255.9" y="449.8" font-size="8.6" text-anchor="end" font-weight="normal" fill="#000" stroke="#000" stroke-width="0.2">+ insulin &amp; cinn</text>
<text x="70.6" y="448.5" font-size="6.9" text-anchor="middle" font-weight="normal" fill="#222" stroke="#222" stroke-width="0.12">5.05</text>
<text x="85.4" y="441.9" font-size="6.9" text-anchor="middle" font-weight="normal" fill="#222" stroke="#222" stroke-width="0.12">5.15</text>
<text x="103.5" y="435.8" font-size="6.9" text-anchor="middle" font-weight="normal" fill="#222" stroke="#222" stroke-width="0.12">5.27</text>
<text x="124.7" y="443.9" font-size="6.9" text-anchor="middle" font-weight="normal" fill="#222" stroke="#222" stroke-width="0.12">5.36</text>
<text x="43.5" y="474.1" font-size="8.6" text-anchor="end" font-weight="normal" fill="#0c0c0c" stroke="#0c0c0c" stroke-width="0.25">100</text>
<text x="43.5" y="488.70000000000005" font-size="8.6" text-anchor="end" font-weight="normal" fill="#0c0c0c" stroke="#0c0c0c" stroke-width="0.25">0</text>
<path d="M58.00,485.58 L58.50,485.57 L59.00,485.56 L59.50,485.55 L60.00,485.54 L60.50,485.52 L61.00,485.49 L61.50,485.45 L62.00,485.41 L62.50,485.34 L63.00,485.26 L63.50,485.17 L64.00,485.04 L64.50,484.90 L65.00,484.73 L65.50,484.54 L66.00,484.33 L66.50,484.10 L67.00,483.86 L67.50,483.62 L68.00,483.40 L68.50,483.19 L69.00,483.02 L69.50,482.88 L70.00,482.79 L70.50,482.74 L71.00,482.74 L71.50,482.77 L72.00,482.82 L72.50,482.87 L73.00,482.91 L73.50,482.92 L74.00,482.87 L74.50,482.76 L75.00,482.58 L75.50,482.31 L76.00,481.96 L76.50,481.51 L77.00,480.99 L77.50,480.40 L78.00,479.76 L78.50,479.09 L79.00,478.40 L79.50,477.74 L80.00,477.12 L80.50,476.57 L81.00,476.12 L81.50,475.79 L82.00,475.60 L82.50,475.56 L83.00,475.66 L83.50,475.89 L84.00,476.24 L84.50,476.68 L85.00,477.18 L85.50,477.71 L86.00,478.24 L86.50,478.75 L87.00,479.22 L87.50,479.64 L88.00,479.99 L88.50,480.27 L89.00,480.49 L89.50,480.64 L90.00,480.73 L90.50,480.76 L91.00,480.73 L91.50,480.64 L92.00,480.48 L92.50,480.24 L93.00,479.93 L93.50,479.52 L94.00,479.03 L94.50,478.44 L95.00,477.75 L95.50,476.99 L96.00,476.16 L96.50,475.28 L97.00,474.37 L97.50,473.47 L98.00,472.60 L98.50,471.80 L99.00,471.09 L99.50,470.51 L100.00,470.08 L100.50,469.82 L101.00,469.76 L101.50,469.88 L102.00,470.19 L102.50,470.67 L103.00,471.29 L103.50,472.03 L104.00,472.86 L104.50,473.74 L105.00,474.66 L105.50,475.58 L106.00,476.49 L106.50,477.36 L107.00,478.18 L107.50,478.93 L108.00,479.62 L108.50,480.24 L109.00,480.78 L109.50,481.25 L110.00,481.64 L110.50,481.98 L111.00,482.25 L111.50,482.46 L112.00,482.63 L112.50,482.74 L113.00,482.82 L113.50,482.85 L114.00,482.84 L114.50,482.79 L115.00,482.71 L115.50,482.58 L116.00,482.42 L116.50,482.22 L117.00,481.99 L117.50,481.73 L118.00,481.44 L118.50,481.14 L119.00,480.83 L119.50,480.52 L120.00,480.22 L120.50,479.94 L121.00,479.70 L121.50,479.50 L122.00,479.35 L122.50,479.27 L123.00,479.26 L123.50,479.32 L124.00,479.44 L124.50,479.63 L125.00,479.88 L125.50,480.18 L126.00,480.52 L126.50,480.89 L127.00,481.28 L127.50,481.68 L128.00,482.08 L128.50,482.47 L129.00,482.84 L129.50,483.20 L130.00,483.53 L130.50,483.83 L131.00,484.10 L131.50,484.34 L132.00,484.55 L132.50,484.74 L133.00,484.89 L133.50,485.02 L134.00,485.13 L134.50,485.22 L135.00,485.30 L135.50,485.36 L136.00,485.41 L136.50,485.44 L137.00,485.47 L137.50,485.50 L138.00,485.52 L138.00,485.70 L58.00,485.70 Z" fill="#efefef" stroke="none"/>
<path d="M45.50,485.64 L46.00,485.64 L46.50,485.64 L47.00,485.64 L47.50,485.64 L48.00,485.64 L48.50,485.63 L49.00,485.63 L49.50,485.63 L50.00,485.63 L50.50,485.63 L51.00,485.63 L51.50,485.62 L52.00,485.62 L52.50,485.62 L53.00,485.62 L53.50,485.61 L54.00,485.61 L54.50,485.61 L55.00,485.61 L55.50,485.60 L56.00,485.60 L56.50,485.59 L57.00,485.59 L57.50,485.59 L58.00,485.58 L58.50,485.57 L59.00,485.56 L59.50,485.55 L60.00,485.54 L60.50,485.52 L61.00,485.49 L61.50,485.45 L62.00,485.41 L62.50,485.34 L63.00,485.26 L63.50,485.17 L64.00,485.04 L64.50,484.90 L65.00,484.73 L65.50,484.54 L66.00,484.33 L66.50,484.10 L67.00,483.86 L67.50,483.62 L68.00,483.40 L68.50,483.19 L69.00,483.02 L69.50,482.88 L70.00,482.79 L70.50,482.74 L71.00,482.74 L71.50,482.77 L72.00,482.82 L72.50,482.87 L73.00,482.91 L73.50,482.92 L74.00,482.87 L74.50,482.76 L75.00,482.58 L75.50,482.31 L76.00,481.96 L76.50,481.51 L77.00,480.99 L77.50,480.40 L78.00,479.76 L78.50,479.09 L79.00,478.40 L79.50,477.74 L80.00,477.12 L80.50,476.57 L81.00,476.12 L81.50,475.79 L82.00,475.60 L82.50,475.56 L83.00,475.66 L83.50,475.89 L84.00,476.24 L84.50,476.68 L85.00,477.18 L85.50,477.71 L86.00,478.24 L86.50,478.75 L87.00,479.22 L87.50,479.64 L88.00,479.99 L88.50,480.27 L89.00,480.49 L89.50,480.64 L90.00,480.73 L90.50,480.76 L91.00,480.73 L91.50,480.64 L92.00,480.48 L92.50,480.24 L93.00,479.93 L93.50,479.52 L94.00,479.03 L94.50,478.44 L95.00,477.75 L95.50,476.99 L96.00,476.16 L96.50,475.28 L97.00,474.37 L97.50,473.47 L98.00,472.60 L98.50,471.80 L99.00,471.09 L99.50,470.51 L100.00,470.08 L100.50,469.82 L101.00,469.76 L101.50,469.88 L102.00,470.19 L102.50,470.67 L103.00,471.29 L103.50,472.03 L104.00,472.86 L104.50,473.74 L105.00,474.66 L105.50,475.58 L106.00,476.49 L106.50,477.36 L107.00,478.18 L107.50,478.93 L108.00,479.62 L108.50,480.24 L109.00,480.78 L109.50,481.25 L110.00,481.64 L110.50,481.98 L111.00,482.25 L111.50,482.46 L112.00,482.63 L112.50,482.74 L113.00,482.82 L113.50,482.85 L114.00,482.84 L114.50,482.79 L115.00,482.71 L115.50,482.58 L116.00,482.42 L116.50,482.22 L117.00,481.99 L117.50,481.73 L118.00,481.44 L118.50,481.14 L119.00,480.83 L119.50,480.52 L120.00,480.22 L120.50,479.94 L121.00,479.70 L121.50,479.50 L122.00,479.35 L122.50,479.27 L123.00,479.26 L123.50,479.32 L124.00,479.44 L124.50,479.63 L125.00,479.88 L125.50,480.18 L126.00,480.52 L126.50,480.89 L127.00,481.28 L127.50,481.68 L128.00,482.08 L128.50,482.47 L129.00,482.84 L129.50,483.20 L130.00,483.53 L130.50,483.83 L131.00,484.10 L131.50,484.34 L132.00,484.55 L132.50,484.74 L133.00,484.89 L133.50,485.02 L134.00,485.13 L134.50,485.22 L135.00,485.30 L135.50,485.36 L136.00,485.41 L136.50,485.44 L137.00,485.47 L137.50,485.50 L138.00,485.52 L138.50,485.53 L139.00,485.55 L139.50,485.56 L140.00,485.57 L140.50,485.57 L141.00,485.58 L141.50,485.58 L142.00,485.59 L142.50,485.59 L143.00,485.60 L143.50,485.60 L144.00,485.60 L144.50,485.61 L145.00,485.61 L145.50,485.61 L146.00,485.61 L146.50,485.62 L147.00,485.62 L147.50,485.62 L148.00,485.62 L148.50,485.63 L149.00,485.63 L149.50,485.63 L150.00,485.63 L150.50,485.63 L151.00,485.63 L151.50,485.64 L152.00,485.64 L152.50,485.64 L153.00,485.64 L153.50,485.64 L154.00,485.64 L154.50,485.64 L155.00,485.65 L155.50,485.65 L156.00,485.65 L156.50,485.65 L157.00,485.65 L157.50,485.65 L158.00,485.65 L158.50,485.65 L159.00,485.65 L159.50,485.65 L160.00,485.66 L160.50,485.66 L161.00,485.66 L161.50,485.66 L162.00,485.66 L162.50,485.66 L163.00,485.66 L163.50,485.66 L164.00,485.66 L164.50,485.66 L165.00,485.66 L165.50,485.66 L166.00,485.66 L166.50,485.66 L167.00,485.67 L167.50,485.67 L168.00,485.67 L168.50,485.67 L169.00,485.67 L169.50,485.67 L170.00,485.67 L170.50,485.67 L171.00,485.67 L171.50,485.67 L172.00,485.67 L172.50,485.67 L173.00,485.67 L173.50,485.67 L174.00,485.67 L174.50,485.67 L175.00,485.67 L175.50,485.67 L176.00,485.67 L176.50,485.67 L177.00,485.67 L177.50,485.67 L178.00,485.68 L178.50,485.68 L179.00,485.68 L179.50,485.68 L180.00,485.68 L180.50,485.68 L181.00,485.68 L181.50,485.68 L182.00,485.68 L182.50,485.68 L183.00,485.68 L183.50,485.68 L184.00,485.68 L184.50,485.68 L185.00,485.68 L185.50,485.68 L186.00,485.68 L186.50,485.68 L187.00,485.68 L187.50,485.68 L188.00,485.68 L188.50,485.68 L189.00,485.68 L189.50,485.68 L190.00,485.68 L190.50,485.68 L191.00,485.68 L191.50,485.68 L192.00,485.68 L192.50,485.68 L193.00,485.68 L193.50,485.68 L194.00,485.68 L194.50,485.68 L195.00,485.68 L195.50,485.68 L196.00,485.68 L196.50,485.68 L197.00,485.68 L197.50,485.68 L198.00,485.68 L198.50,485.68 L199.00,485.68 L199.50,485.69 L200.00,485.69 L200.50,485.69 L201.00,485.69 L201.50,485.69 L202.00,485.69 L202.50,485.69 L203.00,485.69 L203.50,485.69 L204.00,485.69 L204.50,485.69 L205.00,485.69 L205.50,485.69 L206.00,485.69 L206.50,485.69 L207.00,485.69 L207.50,485.69 L208.00,485.69 L208.50,485.69 L209.00,485.69 L209.50,485.69 L210.00,485.69 L210.50,485.69 L211.00,485.69 L211.50,485.69 L212.00,485.69 L212.50,485.69 L213.00,485.69 L213.50,485.69 L214.00,485.69 L214.50,485.69 L215.00,485.69 L215.50,485.69 L216.00,485.69 L216.50,485.69 L217.00,485.69 L217.50,485.69 L218.00,485.69 L218.50,485.69 L219.00,485.69 L219.50,485.69 L220.00,485.69 L220.50,485.69 L221.00,485.69 L221.50,485.69 L222.00,485.69 L222.50,485.69 L223.00,485.69 L223.50,485.69 L224.00,485.69 L224.50,485.69 L225.00,485.69 L225.50,485.69 L226.00,485.69 L226.50,485.69 L227.00,485.69 L227.50,485.69 L228.00,485.69 L228.50,485.69 L229.00,485.69 L229.50,485.69 L230.00,485.69 L230.50,485.69 L231.00,485.69 L231.50,485.69 L232.00,485.69 L232.50,485.69 L233.00,485.69 L233.50,485.69 L234.00,485.69 L234.50,485.69 L235.00,485.69 L235.50,485.69 L236.00,485.69 L236.50,485.69 L237.00,485.69 L237.50,485.69 L238.00,485.69 L238.50,485.69 L239.00,485.69 L239.50,485.69 L240.00,485.69 L240.50,485.69 L241.00,485.69 L241.50,485.69 L242.00,485.69 L242.50,485.69 L243.00,485.69 L243.50,485.69 L244.00,485.69 L244.50,485.69 L245.00,485.69 L245.50,485.69 L246.00,485.69 L246.50,485.69 L247.00,485.69 L247.50,485.69 L248.00,485.69 L248.50,485.69 L249.00,485.69 L249.50,485.69 L250.00,485.69 L250.50,485.69 L251.00,485.69 L251.50,485.69 L252.00,485.69 L252.50,485.69 L253.00,485.69 L253.50,485.69 L254.00,485.69 L254.50,485.69 L255.00,485.69 L255.50,485.69 L256.00,485.69 L256.50,485.69 L257.00,485.69 L257.50,485.69 L258.00,485.69 L258.50,485.69 L259.00,485.69 L259.50,485.69 L260.00,485.69" fill="none" stroke="#b6b6ea" stroke-width="1.1"/>
<text x="255.6" y="480.6" font-size="8.6" text-anchor="end" font-weight="normal" fill="#000" stroke="#000" stroke-width="0.2">+ insulin &amp; cur</text>
<text x="69.2" y="480.1" font-size="6.9" text-anchor="middle" font-weight="normal" fill="#222" stroke="#222" stroke-width="0.12">5.05</text>
<text x="84.8" y="472.6" font-size="6.9" text-anchor="middle" font-weight="normal" fill="#222" stroke="#222" stroke-width="0.12">5.15</text>
<text x="102.5" y="466" font-size="6.9" text-anchor="middle" font-weight="normal" fill="#222" stroke="#222" stroke-width="0.12">5.27</text>
<text x="124.7" y="476.7" font-size="6.9" text-anchor="middle" font-weight="normal" fill="#222" stroke="#222" stroke-width="0.12">5.36</text>
<text x="43.5" y="505.70000000000005" font-size="8.6" text-anchor="end" font-weight="normal" fill="#0c0c0c" stroke="#0c0c0c" stroke-width="0.25">100</text>
<text x="43.5" y="521.3000000000001" font-size="8.6" text-anchor="end" font-weight="normal" fill="#0c0c0c" stroke="#0c0c0c" stroke-width="0.25">0</text>
<path d="M58.00,516.02 L58.50,515.79 L59.00,515.56 L59.50,515.31 L60.00,515.05 L60.50,514.76 L61.00,514.45 L61.50,514.11 L62.00,513.73 L62.50,513.31 L63.00,512.83 L63.50,512.32 L64.00,511.76 L64.50,511.17 L65.00,510.57 L65.50,509.97 L66.00,509.41 L66.50,508.89 L67.00,508.45 L67.50,508.12 L68.00,507.90 L68.50,507.81 L69.00,507.86 L69.50,508.01 L70.00,508.25 L70.50,508.52 L71.00,508.78 L71.50,508.94 L72.00,508.94 L72.50,508.74 L73.00,508.31 L73.50,507.70 L74.00,506.97 L74.50,506.25 L75.00,505.62 L75.50,505.15 L76.00,504.84 L76.50,504.64 L77.00,504.44 L77.50,504.13 L78.00,503.64 L78.50,502.93 L79.00,502.01 L79.50,500.96 L80.00,499.86 L80.50,498.80 L81.00,497.87 L81.50,497.16 L82.00,496.71 L82.50,496.55 L83.00,496.69 L83.50,497.12 L84.00,497.80 L84.50,498.68 L85.00,499.69 L85.50,500.79 L86.00,501.89 L86.50,502.95 L87.00,503.93 L87.50,504.78 L88.00,505.49 L88.50,506.03 L89.00,506.41 L89.50,506.64 L90.00,506.72 L90.50,506.67 L91.00,506.50 L91.50,506.23 L92.00,505.87 L92.50,505.41 L93.00,504.86 L93.50,504.22 L94.00,503.48 L94.50,502.64 L95.00,501.69 L95.50,500.65 L96.00,499.54 L96.50,498.36 L97.00,497.17 L97.50,495.99 L98.00,494.87 L98.50,493.87 L99.00,493.03 L99.50,492.40 L100.00,492.03 L100.50,491.94 L101.00,492.14 L101.50,492.64 L102.00,493.41 L102.50,494.42 L103.00,495.63 L103.50,497.00 L104.00,498.47 L104.50,500.01 L105.00,501.56 L105.50,503.10 L106.00,504.60 L106.50,506.01 L107.00,507.33 L107.50,508.53 L108.00,509.62 L108.50,510.57 L109.00,511.40 L109.50,512.10 L110.00,512.68 L110.50,513.14 L111.00,513.51 L111.50,513.77 L112.00,513.95 L112.50,514.05 L113.00,514.08 L113.50,514.05 L114.00,513.95 L114.50,513.79 L115.00,513.58 L115.50,513.31 L116.00,513.00 L116.50,512.65 L117.00,512.25 L117.50,511.82 L118.00,511.37 L118.50,510.91 L119.00,510.45 L119.50,510.01 L120.00,509.59 L120.50,509.22 L121.00,508.91 L121.50,508.68 L122.00,508.53 L122.50,508.47 L123.00,508.52 L123.50,508.67 L124.00,508.91 L124.50,509.25 L125.00,509.66 L125.50,510.13 L126.00,510.66 L126.50,511.22 L127.00,511.79 L127.50,512.38 L128.00,512.95 L128.50,513.51 L129.00,514.04 L129.50,514.53 L130.00,514.99 L130.50,515.40 L131.00,515.77 L131.50,516.09 L132.00,516.38 L132.50,516.62 L133.00,516.82 L133.50,516.99 L134.00,517.14 L134.50,517.25 L135.00,517.35 L135.50,517.43 L136.00,517.49 L136.50,517.54 L137.00,517.58 L137.50,517.61 L138.00,517.63 L138.00,517.90 L58.00,517.90 Z" fill="#efefef" stroke="none"/>
<path d="M45.50,517.77 L46.00,517.77 L46.50,517.76 L47.00,517.76 L47.50,517.76 L48.00,517.75 L48.50,517.74 L49.00,517.74 L49.50,517.73 L50.00,517.71 L50.50,517.70 L51.00,517.68 L51.50,517.65 L52.00,517.61 L52.50,517.57 L53.00,517.51 L53.50,517.44 L54.00,517.35 L54.50,517.24 L55.00,517.12 L55.50,516.97 L56.00,516.81 L56.50,516.63 L57.00,516.44 L57.50,516.24 L58.00,516.02 L58.50,515.79 L59.00,515.56 L59.50,515.31 L60.00,515.05 L60.50,514.76 L61.00,514.45 L61.50,514.11 L62.00,513.73 L62.50,513.31 L63.00,512.83 L63.50,512.32 L64.00,511.76 L64.50,511.17 L65.00,510.57 L65.50,509.97 L66.00,509.41 L66.50,508.89 L67.00,508.45 L67.50,508.12 L68.00,507.90 L68.50,507.81 L69.00,507.86 L69.50,508.01 L70.00,508.25 L70.50,508.52 L71.00,508.78 L71.50,508.94 L72.00,508.94 L72.50,508.74 L73.00,508.31 L73.50,507.70 L74.00,506.97 L74.50,506.25 L75.00,505.62 L75.50,505.15 L76.00,504.84 L76.50,504.64 L77.00,504.44 L77.50,504.13 L78.00,503.64 L78.50,502.93 L79.00,502.01 L79.50,500.96 L80.00,499.86 L80.50,498.80 L81.00,497.87 L81.50,497.16 L82.00,496.71 L82.50,496.55 L83.00,496.69 L83.50,497.12 L84.00,497.80 L84.50,498.68 L85.00,499.69 L85.50,500.79 L86.00,501.89 L86.50,502.95 L87.00,503.93 L87.50,504.78 L88.00,505.49 L88.50,506.03 L89.00,506.41 L89.50,506.64 L90.00,506.72 L90.50,506.67 L91.00,506.50 L91.50,506.23 L92.00,505.87 L92.50,505.41 L93.00,504.86 L93.50,504.22 L94.00,503.48 L94.50,502.64 L95.00,501.69 L95.50,500.65 L96.00,499.54 L96.50,498.36 L97.00,497.17 L97.50,495.99 L98.00,494.87 L98.50,493.87 L99.00,493.03 L99.50,492.40 L100.00,492.03 L100.50,491.94 L101.00,492.14 L101.50,492.64 L102.00,493.41 L102.50,494.42 L103.00,495.63 L103.50,497.00 L104.00,498.47 L104.50,500.01 L105.00,501.56 L105.50,503.10 L106.00,504.60 L106.50,506.01 L107.00,507.33 L107.50,508.53 L108.00,509.62 L108.50,510.57 L109.00,511.40 L109.50,512.10 L110.00,512.68 L110.50,513.14 L111.00,513.51 L111.50,513.77 L112.00,513.95 L112.50,514.05 L113.00,514.08 L113.50,514.05 L114.00,513.95 L114.50,513.79 L115.00,513.58 L115.50,513.31 L116.00,513.00 L116.50,512.65 L117.00,512.25 L117.50,511.82 L118.00,511.37 L118.50,510.91 L119.00,510.45 L119.50,510.01 L120.00,509.59 L120.50,509.22 L121.00,508.91 L121.50,508.68 L122.00,508.53 L122.50,508.47 L123.00,508.52 L123.50,508.67 L124.00,508.91 L124.50,509.25 L125.00,509.66 L125.50,510.13 L126.00,510.66 L126.50,511.22 L127.00,511.79 L127.50,512.38 L128.00,512.95 L128.50,513.51 L129.00,514.04 L129.50,514.53 L130.00,514.99 L130.50,515.40 L131.00,515.77 L131.50,516.09 L132.00,516.38 L132.50,516.62 L133.00,516.82 L133.50,516.99 L134.00,517.14 L134.50,517.25 L135.00,517.35 L135.50,517.43 L136.00,517.49 L136.50,517.54 L137.00,517.58 L137.50,517.61 L138.00,517.63 L138.50,517.65 L139.00,517.67 L139.50,517.68 L140.00,517.69 L140.50,517.70 L141.00,517.71 L141.50,517.72 L142.00,517.73 L142.50,517.73 L143.00,517.74 L143.50,517.74 L144.00,517.75 L144.50,517.75 L145.00,517.76 L145.50,517.76 L146.00,517.76 L146.50,517.77 L147.00,517.77 L147.50,517.77 L148.00,517.78 L148.50,517.78 L149.00,517.78 L149.50,517.79 L150.00,517.79 L150.50,517.79 L151.00,517.79 L151.50,517.80 L152.00,517.80 L152.50,517.80 L153.00,517.80 L153.50,517.81 L154.00,517.81 L154.50,517.81 L155.00,517.81 L155.50,517.81 L156.00,517.82 L156.50,517.82 L157.00,517.82 L157.50,517.82 L158.00,517.82 L158.50,517.82 L159.00,517.82 L159.50,517.83 L160.00,517.83 L160.50,517.83 L161.00,517.83 L161.50,517.83 L162.00,517.83 L162.50,517.83 L163.00,517.83 L163.50,517.84 L164.00,517.84 L164.50,517.84 L165.00,517.84 L165.50,517.84 L166.00,517.84 L166.50,517.84 L167.00,517.84 L167.50,517.84 L168.00,517.84 L168.50,517.85 L169.00,517.85 L169.50,517.85 L170.00,517.85 L170.50,517.85 L171.00,517.85 L171.50,517.85 L172.00,517.85 L172.50,517.85 L173.00,517.85 L173.50,517.85 L174.00,517.85 L174.50,517.85 L175.00,517.86 L175.50,517.86 L176.00,517.86 L176.50,517.86 L177.00,517.86 L177.50,517.86 L178.00,517.86 L178.50,517.86 L179.00,517.86 L179.50,517.86 L180.00,517.86 L180.50,517.86 L181.00,517.86 L181.50,517.86 L182.00,517.86 L182.50,517.86 L183.00,517.86 L183.50,517.86 L184.00,517.86 L184.50,517.87 L185.00,517.87 L185.50,517.87 L186.00,517.87 L186.50,517.87 L187.00,517.87 L187.50,517.87 L188.00,517.87 L188.50,517.87 L189.00,517.87 L189.50,517.87 L190.00,517.87 L190.50,517.87 L191.00,517.87 L191.50,517.87 L192.00,517.87 L192.50,517.87 L193.00,517.87 L193.50,517.87 L194.00,517.87 L194.50,517.87 L195.00,517.87 L195.50,517.87 L196.00,517.87 L196.50,517.87 L197.00,517.87 L197.50,517.87 L198.00,517.87 L198.50,517.87 L199.00,517.87 L199.50,517.88 L200.00,517.88 L200.50,517.88 L201.00,517.88 L201.50,517.88 L202.00,517.88 L202.50,517.88 L203.00,517.88 L203.50,517.88 L204.00,517.88 L204.50,517.88 L205.00,517.88 L205.50,517.88 L206.00,517.88 L206.50,517.88 L207.00,517.88 L207.50,517.88 L208.00,517.88 L208.50,517.88 L209.00,517.88 L209.50,517.88 L210.00,517.88 L210.50,517.88 L211.00,517.88 L211.50,517.88 L212.00,517.88 L212.50,517.88 L213.00,517.88 L213.50,517.88 L214.00,517.88 L214.50,517.88 L215.00,517.88 L215.50,517.88 L216.00,517.88 L216.50,517.88 L217.00,517.88 L217.50,517.88 L218.00,517.88 L218.50,517.88 L219.00,517.88 L219.50,517.88 L220.00,517.88 L220.50,517.88 L221.00,517.88 L221.50,517.88 L222.00,517.88 L222.50,517.88 L223.00,517.88 L223.50,517.88 L224.00,517.88 L224.50,517.88 L225.00,517.88 L225.50,517.88 L226.00,517.88 L226.50,517.88 L227.00,517.88 L227.50,517.88 L228.00,517.89 L228.50,517.89 L229.00,517.89 L229.50,517.89 L230.00,517.89 L230.50,517.89 L231.00,517.89 L231.50,517.89 L232.00,517.89 L232.50,517.89 L233.00,517.89 L233.50,517.89 L234.00,517.89 L234.50,517.89 L235.00,517.89 L235.50,517.89 L236.00,517.89 L236.50,517.89 L237.00,517.89 L237.50,517.89 L238.00,517.89 L238.50,517.89 L239.00,517.89 L239.50,517.89 L240.00,517.89 L240.50,517.89 L241.00,517.89 L241.50,517.89 L242.00,517.89 L242.50,517.89 L243.00,517.89 L243.50,517.89 L244.00,517.89 L244.50,517.89 L245.00,517.89 L245.50,517.89 L246.00,517.89 L246.50,517.89 L247.00,517.89 L247.50,517.89 L248.00,517.89 L248.50,517.89 L249.00,517.89 L249.50,517.89 L250.00,517.89 L250.50,517.89 L251.00,517.89 L251.50,517.89 L252.00,517.89 L252.50,517.89 L253.00,517.89 L253.50,517.89 L254.00,517.89 L254.50,517.89 L255.00,517.89 L255.50,517.89 L256.00,517.89 L256.50,517.89 L257.00,517.89 L257.50,517.89 L258.00,517.89 L258.50,517.89 L259.00,517.89 L259.50,517.89 L260.00,517.89" fill="none" stroke="#b6b6ea" stroke-width="1.1"/>
<text x="257.8" y="513.3" font-size="8.6" text-anchor="end" font-weight="normal" fill="#000" stroke="#000" stroke-width="0.2">+ insulin, cinn &amp; cur</text>
<text x="68.2" y="503.9" font-size="6.9" text-anchor="middle" font-weight="normal" fill="#222" stroke="#222" stroke-width="0.12">5.05</text>
<text x="84.4" y="493.4" font-size="6.9" text-anchor="middle" font-weight="normal" fill="#222" stroke="#222" stroke-width="0.12">5.15</text>
<text x="102.1" y="489.4" font-size="6.9" text-anchor="middle" font-weight="normal" fill="#222" stroke="#222" stroke-width="0.12">5.27</text>
<text x="124.3" y="503.9" font-size="6.9" text-anchor="middle" font-weight="normal" fill="#222" stroke="#222" stroke-width="0.12">5.36</text>
<text x="280.5" y="383.2" font-size="12.1" text-anchor="start" font-weight="bold" fill="#000" >F</text>
<defs><pattern id="chk" width="2" height="2" patternUnits="userSpaceOnUse"><rect width="2" height="2" fill="#2a2a2a"/><rect x="0" y="0" width="1" height="1" fill="#e0e0e0"/><rect x="1" y="1" width="1" height="1" fill="#9a9a9a"/></pattern><pattern id="xh" width="5.2" height="5.2" patternUnits="userSpaceOnUse" x="440.6" y="456.5"><rect width="5.2" height="5.2" fill="#fff"/><path d="M-1,-1 L6.2,6.2 M6.2,-1 L-1,6.2" stroke="#2a2a2a" stroke-width="1"/></pattern><pattern id="zz" width="2.9" height="3" patternUnits="userSpaceOnUse" x="493.4" y="411.5"><rect width="2.9" height="3" fill="#fff"/><path d="M0.8,-0.1 L2.1,1.5 L0.8,3.1" stroke="#8a8a8a" stroke-width="0.7" fill="none"/></pattern></defs>
<rect x="314.7" y="395.4" width="214.3" height="120.60000000000002" fill="#fff" stroke="#c4c4c4" stroke-width="0.8"/>
<line x1="314.7" y1="395.4" x2="314.7" y2="516" stroke="#999" stroke-width="0.8"/>
<line x1="314.7" y1="516" x2="529" y2="516" stroke="#999" stroke-width="0.8"/>
<line x1="312.7" y1="516.00" x2="314.7" y2="516.00" stroke="#999" stroke-width="0.7"/>
<text x="307.5" y="519.0" font-size="8.4" text-anchor="end" font-weight="normal" fill="#333" >0</text>
<line x1="312.7" y1="500.93" x2="314.7" y2="500.93" stroke="#999" stroke-width="0.7"/>
<text x="307.5" y="503.925" font-size="8.4" text-anchor="end" font-weight="normal" fill="#333" >1</text>
<line x1="312.7" y1="485.85" x2="314.7" y2="485.85" stroke="#999" stroke-width="0.7"/>
<text x="307.5" y="488.85" font-size="8.4" text-anchor="end" font-weight="normal" fill="#333" >2</text>
<line x1="312.7" y1="470.77" x2="314.7" y2="470.77" stroke="#999" stroke-width="0.7"/>
<text x="307.5" y="473.775" font-size="8.4" text-anchor="end" font-weight="normal" fill="#333" >3</text>
<line x1="312.7" y1="455.70" x2="314.7" y2="455.70" stroke="#999" stroke-width="0.7"/>
<text x="307.5" y="458.7" font-size="8.4" text-anchor="end" font-weight="normal" fill="#333" >4</text>
<line x1="312.7" y1="440.62" x2="314.7" y2="440.62" stroke="#999" stroke-width="0.7"/>
<text x="307.5" y="443.625" font-size="8.4" text-anchor="end" font-weight="normal" fill="#333" >5</text>
<line x1="312.7" y1="425.55" x2="314.7" y2="425.55" stroke="#999" stroke-width="0.7"/>
<text x="307.5" y="428.54999999999995" font-size="8.4" text-anchor="end" font-weight="normal" fill="#333" >6</text>
<line x1="312.7" y1="410.47" x2="314.7" y2="410.47" stroke="#999" stroke-width="0.7"/>
<text x="307.5" y="413.47499999999997" font-size="8.4" text-anchor="end" font-weight="normal" fill="#333" >7</text>
<line x1="312.7" y1="395.40" x2="314.7" y2="395.40" stroke="#999" stroke-width="0.7"/>
<text x="307.5" y="398.4" font-size="8.4" text-anchor="end" font-weight="normal" fill="#333" >8</text>
<text x="294.2" y="466" font-size="8.7" text-anchor="middle" font-weight="normal" fill="#222" transform="rotate(-90 294.2 466)" dominant-baseline="central">p-Akt2 (S474)</text>
<path d="M342.29999999999995,500.2 L342.29999999999995,497.4 M339.9,497.4 L344.69999999999993,497.4" stroke="#484848" stroke-width="0.9" fill="none"/>
<rect x="333.9" y="500.2" width="16.80000000000001" height="15.800000000000011" fill="#000" stroke="#111" stroke-width="0.9"/>
<path d="M395.54999999999995,458 L395.54999999999995,452.4 M393.15,452.4 L397.94999999999993,452.4" stroke="#484848" stroke-width="0.9" fill="none"/>
<rect x="386.9" y="458" width="17.30000000000001" height="58" fill="url(#chk)" stroke="#111" stroke-width="0.9"/>
<path d="M448.9,456.5 L448.9,451.6 M446.5,451.6 L451.29999999999995,451.6" stroke="#484848" stroke-width="0.9" fill="none"/>
<clipPath id="cp2"><rect x="440.2" y="456.5" width="17.400000000000034" height="59.5"/></clipPath>
<rect x="440.2" y="456.5" width="17.400000000000034" height="59.5" fill="#fff"/>
<path d="M373.20,456.50 l59.50,59.50 M432.70,456.50 l-59.50,59.50 M378.40,456.50 l59.50,59.50 M437.90,456.50 l-59.50,59.50 M383.60,456.50 l59.50,59.50 M443.10,456.50 l-59.50,59.50 M388.80,456.50 l59.50,59.50 M448.30,456.50 l-59.50,59.50 M394.00,456.50 l59.50,59.50 M453.50,456.50 l-59.50,59.50 M399.20,456.50 l59.50,59.50 M458.70,456.50 l-59.50,59.50 M404.40,456.50 l59.50,59.50 M463.90,456.50 l-59.50,59.50 M409.60,456.50 l59.50,59.50 M469.10,456.50 l-59.50,59.50 M414.80,456.50 l59.50,59.50 M474.30,456.50 l-59.50,59.50 M420.00,456.50 l59.50,59.50 M479.50,456.50 l-59.50,59.50 M425.20,456.50 l59.50,59.50 M484.70,456.50 l-59.50,59.50 M430.40,456.50 l59.50,59.50 M489.90,456.50 l-59.50,59.50 M435.60,456.50 l59.50,59.50 M495.10,456.50 l-59.50,59.50 M440.80,456.50 l59.50,59.50 M500.30,456.50 l-59.50,59.50 M446.00,456.50 l59.50,59.50 M505.50,456.50 l-59.50,59.50 M451.20,456.50 l59.50,59.50 M510.70,456.50 l-59.50,59.50 M456.40,456.50 l59.50,59.50 M515.90,456.50 l-59.50,59.50 " stroke="#2a2a2a" stroke-width="0.95" fill="none" clip-path="url(#cp2)"/>
<rect x="440.2" y="456.5" width="17.400000000000034" height="59.5" fill="none" stroke="#222" stroke-width="0.9"/>
<path d="M502.15,411.5 L502.15,404.4 M499.75,404.4 L504.54999999999995,404.4" stroke="#484848" stroke-width="0.9" fill="none"/>
<clipPath id="cp3"><rect x="493.5" y="411.5" width="17.30000000000001" height="104.5"/></clipPath>
<rect x="493.5" y="411.5" width="17.30000000000001" height="104.5" fill="#fff"/>
<path d="M494.20,410.50 L496.20,412.20 L494.20,413.90 L496.20,415.60 L494.20,417.30 L496.20,419.00 L494.20,420.70 L496.20,422.40 L494.20,424.10 L496.20,425.80 L494.20,427.50 L496.20,429.20 L494.20,430.90 L496.20,432.60 L494.20,434.30 L496.20,436.00 L494.20,437.70 L496.20,439.40 L494.20,441.10 L496.20,442.80 L494.20,444.50 L496.20,446.20 L494.20,447.90 L496.20,449.60 L494.20,451.30 L496.20,453.00 L494.20,454.70 L496.20,456.40 L494.20,458.10 L496.20,459.80 L494.20,461.50 L496.20,463.20 L494.20,464.90 L496.20,466.60 L494.20,468.30 L496.20,470.00 L494.20,471.70 L496.20,473.40 L494.20,475.10 L496.20,476.80 L494.20,478.50 L496.20,480.20 L494.20,481.90 L496.20,483.60 L494.20,485.30 L496.20,487.00 L494.20,488.70 L496.20,490.40 L494.20,492.10 L496.20,493.80 L494.20,495.50 L496.20,497.20 L494.20,498.90 L496.20,500.60 L494.20,502.30 L496.20,504.00 L494.20,505.70 L496.20,507.40 L494.20,509.10 L496.20,510.80 L494.20,512.50 L496.20,514.20 L494.20,515.90 L496.20,517.60 L494.20,519.30 M497.60,410.50 L499.60,412.20 L497.60,413.90 L499.60,415.60 L497.60,417.30 L499.60,419.00 L497.60,420.70 L499.60,422.40 L497.60,424.10 L499.60,425.80 L497.60,427.50 L499.60,429.20 L497.60,430.90 L499.60,432.60 L497.60,434.30 L499.60,436.00 L497.60,437.70 L499.60,439.40 L497.60,441.10 L499.60,442.80 L497.60,444.50 L499.60,446.20 L497.60,447.90 L499.60,449.60 L497.60,451.30 L499.60,453.00 L497.60,454.70 L499.60,456.40 L497.60,458.10 L499.60,459.80 L497.60,461.50 L499.60,463.20 L497.60,464.90 L499.60,466.60 L497.60,468.30 L499.60,470.00 L497.60,471.70 L499.60,473.40 L497.60,475.10 L499.60,476.80 L497.60,478.50 L499.60,480.20 L497.60,481.90 L499.60,483.60 L497.60,485.30 L499.60,487.00 L497.60,488.70 L499.60,490.40 L497.60,492.10 L499.60,493.80 L497.60,495.50 L499.60,497.20 L497.60,498.90 L499.60,500.60 L497.60,502.30 L499.60,504.00 L497.60,505.70 L499.60,507.40 L497.60,509.10 L499.60,510.80 L497.60,512.50 L499.60,514.20 L497.60,515.90 L499.60,517.60 L497.60,519.30 M501.00,410.50 L503.00,412.20 L501.00,413.90 L503.00,415.60 L501.00,417.30 L503.00,419.00 L501.00,420.70 L503.00,422.40 L501.00,424.10 L503.00,425.80 L501.00,427.50 L503.00,429.20 L501.00,430.90 L503.00,432.60 L501.00,434.30 L503.00,436.00 L501.00,437.70 L503.00,439.40 L501.00,441.10 L503.00,442.80 L501.00,444.50 L503.00,446.20 L501.00,447.90 L503.00,449.60 L501.00,451.30 L503.00,453.00 L501.00,454.70 L503.00,456.40 L501.00,458.10 L503.00,459.80 L501.00,461.50 L503.00,463.20 L501.00,464.90 L503.00,466.60 L501.00,468.30 L503.00,470.00 L501.00,471.70 L503.00,473.40 L501.00,475.10 L503.00,476.80 L501.00,478.50 L503.00,480.20 L501.00,481.90 L503.00,483.60 L501.00,485.30 L503.00,487.00 L501.00,488.70 L503.00,490.40 L501.00,492.10 L503.00,493.80 L501.00,495.50 L503.00,497.20 L501.00,498.90 L503.00,500.60 L501.00,502.30 L503.00,504.00 L501.00,505.70 L503.00,507.40 L501.00,509.10 L503.00,510.80 L501.00,512.50 L503.00,514.20 L501.00,515.90 L503.00,517.60 L501.00,519.30 M504.40,410.50 L506.40,412.20 L504.40,413.90 L506.40,415.60 L504.40,417.30 L506.40,419.00 L504.40,420.70 L506.40,422.40 L504.40,424.10 L506.40,425.80 L504.40,427.50 L506.40,429.20 L504.40,430.90 L506.40,432.60 L504.40,434.30 L506.40,436.00 L504.40,437.70 L506.40,439.40 L504.40,441.10 L506.40,442.80 L504.40,444.50 L506.40,446.20 L504.40,447.90 L506.40,449.60 L504.40,451.30 L506.40,453.00 L504.40,454.70 L506.40,456.40 L504.40,458.10 L506.40,459.80 L504.40,461.50 L506.40,463.20 L504.40,464.90 L506.40,466.60 L504.40,468.30 L506.40,470.00 L504.40,471.70 L506.40,473.40 L504.40,475.10 L506.40,476.80 L504.40,478.50 L506.40,480.20 L504.40,481.90 L506.40,483.60 L504.40,485.30 L506.40,487.00 L504.40,488.70 L506.40,490.40 L504.40,492.10 L506.40,493.80 L504.40,495.50 L506.40,497.20 L504.40,498.90 L506.40,500.60 L504.40,502.30 L506.40,504.00 L504.40,505.70 L506.40,507.40 L504.40,509.10 L506.40,510.80 L504.40,512.50 L506.40,514.20 L504.40,515.90 L506.40,517.60 L504.40,519.30 M507.80,410.50 L509.80,412.20 L507.80,413.90 L509.80,415.60 L507.80,417.30 L509.80,419.00 L507.80,420.70 L509.80,422.40 L507.80,424.10 L509.80,425.80 L507.80,427.50 L509.80,429.20 L507.80,430.90 L509.80,432.60 L507.80,434.30 L509.80,436.00 L507.80,437.70 L509.80,439.40 L507.80,441.10 L509.80,442.80 L507.80,444.50 L509.80,446.20 L507.80,447.90 L509.80,449.60 L507.80,451.30 L509.80,453.00 L507.80,454.70 L509.80,456.40 L507.80,458.10 L509.80,459.80 L507.80,461.50 L509.80,463.20 L507.80,464.90 L509.80,466.60 L507.80,468.30 L509.80,470.00 L507.80,471.70 L509.80,473.40 L507.80,475.10 L509.80,476.80 L507.80,478.50 L509.80,480.20 L507.80,481.90 L509.80,483.60 L507.80,485.30 L509.80,487.00 L507.80,488.70 L509.80,490.40 L507.80,492.10 L509.80,493.80 L507.80,495.50 L509.80,497.20 L507.80,498.90 L509.80,500.60 L507.80,502.30 L509.80,504.00 L507.80,505.70 L509.80,507.40 L507.80,509.10 L509.80,510.80 L507.80,512.50 L509.80,514.20 L507.80,515.90 L509.80,517.60 L507.80,519.30 " stroke="#8c8c8c" stroke-width="0.75" fill="none" stroke-linejoin="round" clip-path="url(#cp3)"/>
<rect x="493.5" y="411.5" width="17.30000000000001" height="104.5" fill="none" stroke="#222" stroke-width="0.9"/>
<text x="342.4" y="526.6" font-size="6.8" text-anchor="middle" font-weight="normal" fill="#484848" >Ins</text>
<text x="395.6" y="526.6" font-size="6.8" text-anchor="middle" font-weight="normal" fill="#484848" >Ins + Cinn</text>
<text x="448.8" y="526.6" font-size="6.8" text-anchor="middle" font-weight="normal" fill="#484848" >Ins + Cu</text>
<text x="502" y="526.6" font-size="6.8" text-anchor="middle" font-weight="normal" fill="#484848" >Ins + Cinn + Cu</text>
<path d="M395.20,446.90 L395.20,445.35 M395.20,446.90 L396.67,446.42 M395.20,446.90 L396.11,448.15 M395.20,446.90 L394.29,448.15 M395.20,446.90 L393.73,446.42 " stroke="#111" stroke-width="1.05" stroke-linecap="round" fill="none"/>
<circle cx="395.2" cy="446.9" r="1.15" fill="#111"/>
<path d="M448.50,446.90 L448.50,445.35 M448.50,446.90 L449.97,446.42 M448.50,446.90 L449.41,448.15 M448.50,446.90 L447.59,448.15 M448.50,446.90 L447.03,446.42 " stroke="#111" stroke-width="1.05" stroke-linecap="round" fill="none"/>
<circle cx="448.5" cy="446.9" r="1.15" fill="#111"/>
<path d="M498.80,399.20 L498.80,397.65 M498.80,399.20 L500.27,398.72 M498.80,399.20 L499.71,400.45 M498.80,399.20 L497.89,400.45 M498.80,399.20 L497.33,398.72 " stroke="#111" stroke-width="1.05" stroke-linecap="round" fill="none"/>
<circle cx="498.8" cy="399.2" r="1.15" fill="#111"/>
<path d="M504.90,399.20 L504.90,397.65 M504.90,399.20 L506.37,398.72 M504.90,399.20 L505.81,400.45 M504.90,399.20 L503.99,400.45 M504.90,399.20 L503.43,398.72 " stroke="#111" stroke-width="1.05" stroke-linecap="round" fill="none"/>
<circle cx="504.9" cy="399.2" r="1.15" fill="#111"/>
</svg>
</body></html>
